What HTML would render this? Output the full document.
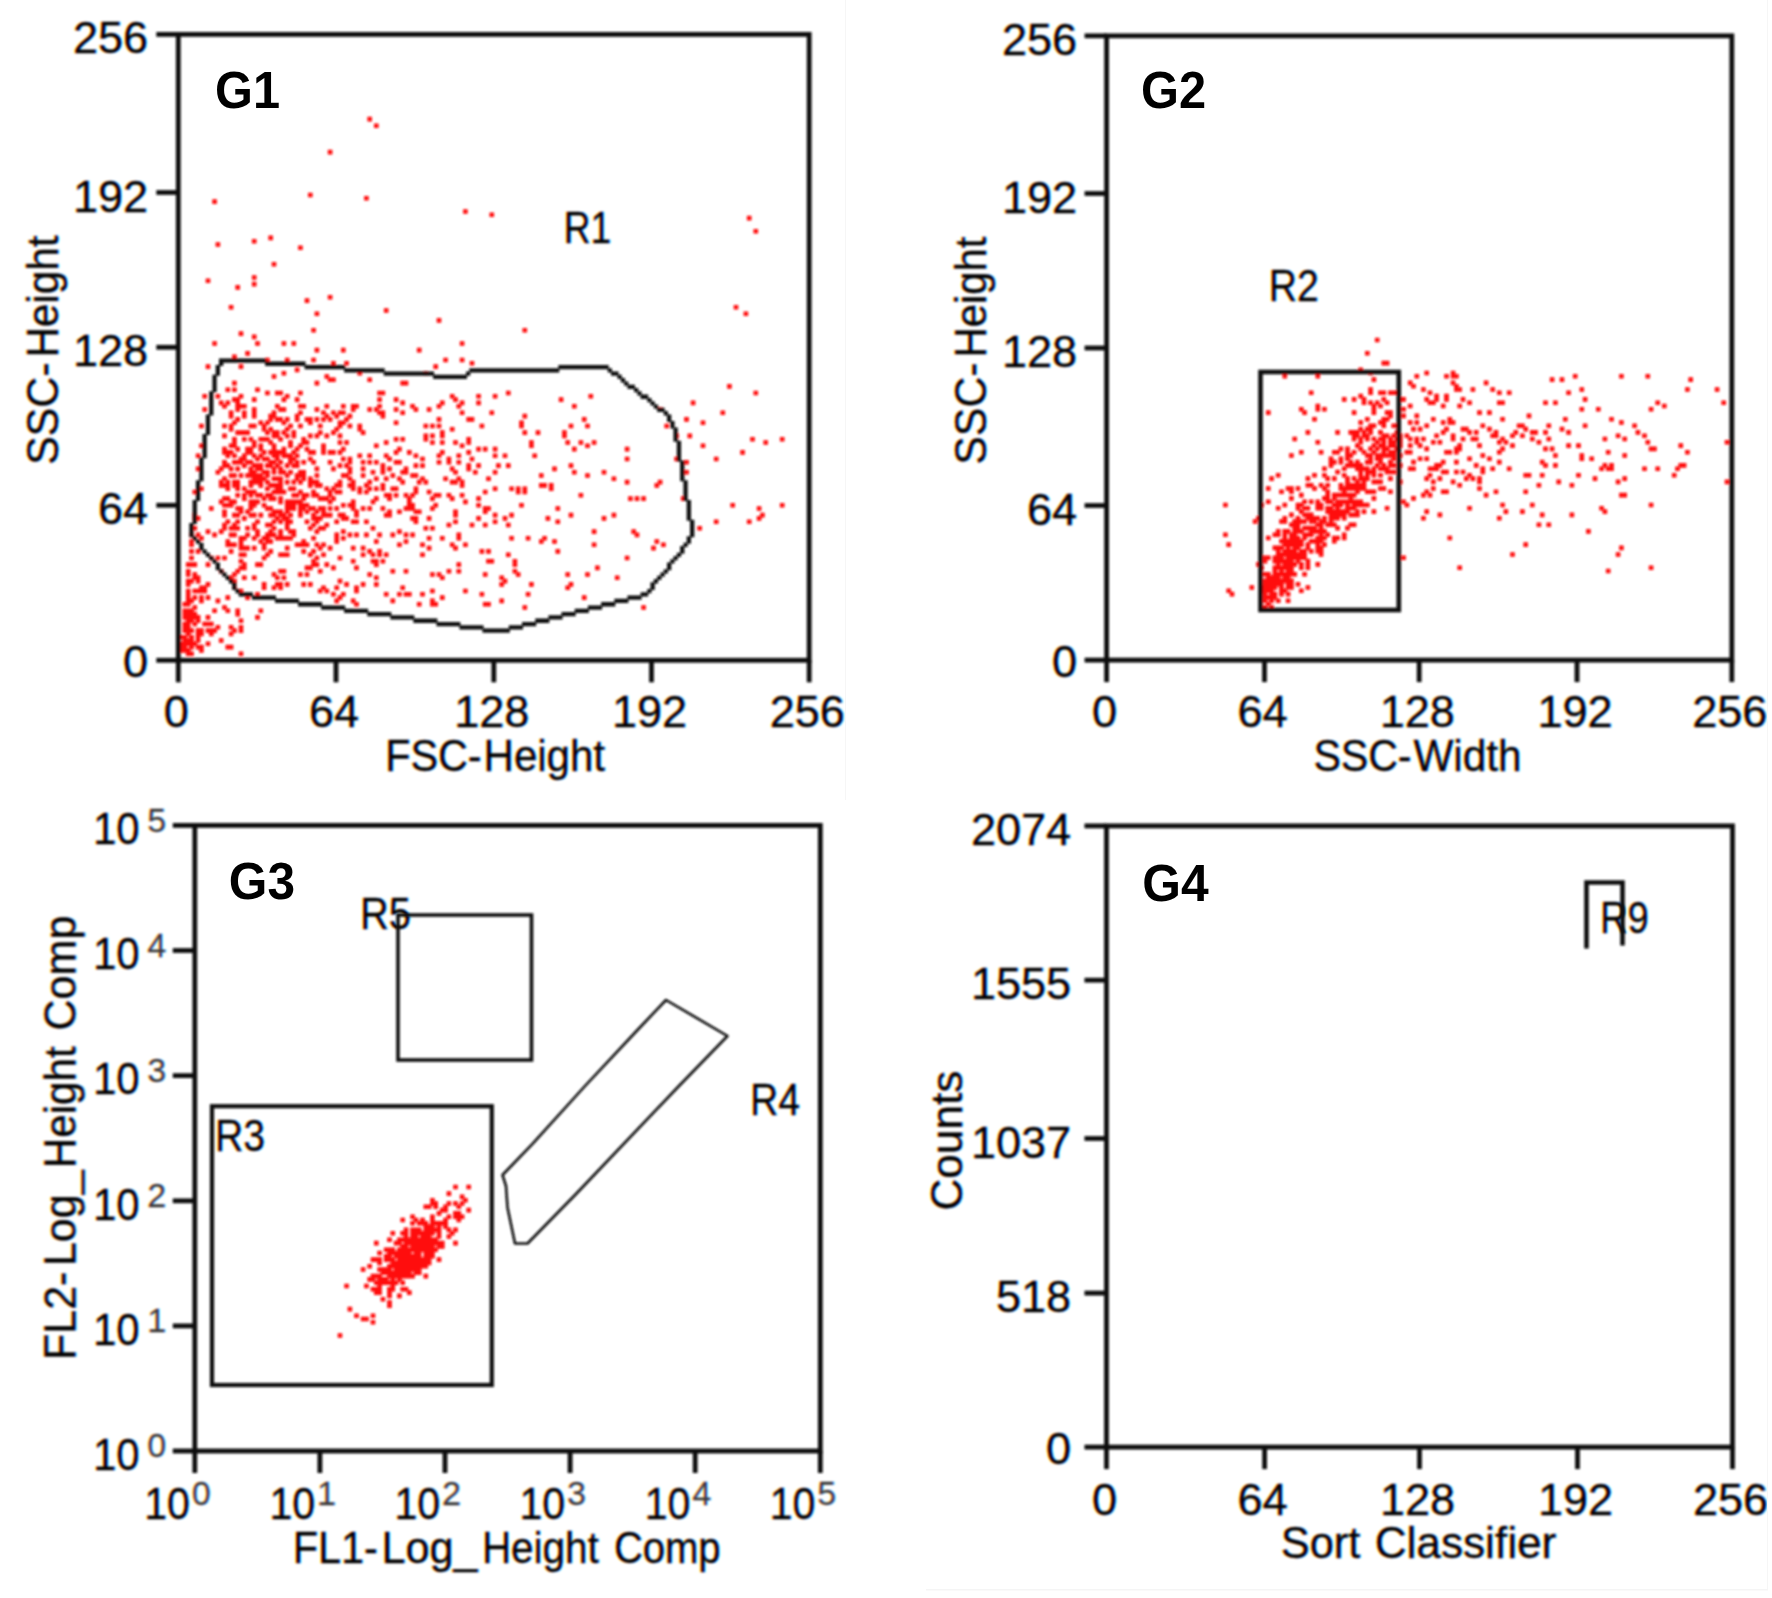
<!DOCTYPE html>
<html><head><meta charset="utf-8"><title>Flow cytometry gating</title>
<style>html,body{margin:0;padding:0;background:#fff;}body{width:1772px;height:1598px;overflow:hidden}svg{display:block}</style>
</head><body>
<svg width="1772" height="1598" viewBox="0 0 1772 1598" font-family='"Liberation Sans", sans-serif' fill="#0c0c0c">
<style>text{stroke:#0c0c0c;stroke-width:0.4px;paint-order:stroke}text.g{stroke:none;fill:#000}text.e,tspan.e{stroke-width:.3px;fill-opacity:.78;stroke-opacity:.78}</style>
<defs><filter id="b" x="-2%" y="-2%" width="104%" height="104%"><feGaussianBlur stdDeviation="0.8"/></filter><filter id="b2" x="-2%" y="-2%" width="104%" height="104%"><feGaussianBlur stdDeviation="0.45"/></filter><filter id="ct" filterUnits="userSpaceOnUse" x="0" y="0" width="1772" height="1598" color-interpolation-filters="sRGB"><feGaussianBlur in="SourceAlpha" stdDeviation="0.95" result="a"/><feOffset in="a" dx="1.3" result="ar"/><feOffset in="a" dx="-1.3" result="ab"/><feColorMatrix in="ar" type="matrix" values="0 0 0 -1 1  0 0 0 0 0  0 0 0 0 0  0 0 0 0 1" result="R"/><feColorMatrix in="a" type="matrix" values="0 0 0 0 0  0 0 0 -1 1  0 0 0 0 0  0 0 0 0 1" result="G"/><feColorMatrix in="ab" type="matrix" values="0 0 0 0 0  0 0 0 0 0  0 0 0 -1 1  0 0 0 0 1" result="B"/><feComposite in="R" in2="G" operator="arithmetic" k2="1" k3="1" result="RG"/><feComposite in="RG" in2="B" operator="arithmetic" k2="1" k3="1"/></filter></defs>
<rect width="1772" height="1598" fill="#fff"/>
<g filter="url(#ct)">
<text x="148.0" y="53.4" font-size="45" text-anchor="end">256</text>
<text x="148.0" y="211.5" font-size="45" text-anchor="end">192</text>
<text x="148.0" y="366.3" font-size="45" text-anchor="end">128</text>
<text x="148.0" y="524.3" font-size="45" text-anchor="end">64</text>
<text x="148.0" y="676.8" font-size="45" text-anchor="end">0</text>
<text x="176.3" y="727.0" font-size="45" text-anchor="middle">0</text>
<text x="334.0" y="727.0" font-size="45" text-anchor="middle">64</text>
<text x="491.8" y="727.0" font-size="45" text-anchor="middle">128</text>
<text x="649.5" y="727.0" font-size="45" text-anchor="middle">192</text>
<text x="807.2" y="727.0" font-size="45" text-anchor="middle">256</text>
<text y="771.0" font-size="44"><tspan x="385.2" textLength="96.3" lengthAdjust="spacingAndGlyphs">FSC-</tspan><tspan x="483.6" textLength="121.3" lengthAdjust="spacingAndGlyphs">Height</tspan></text>
<text y="0" font-size="44" transform="translate(58.0 464.9) rotate(-90)"><tspan x="0.0" textLength="102.5" lengthAdjust="spacingAndGlyphs">SSC-</tspan><tspan x="107.4" textLength="122.0" lengthAdjust="spacingAndGlyphs">Height</tspan></text>
<text x="563.8" y="243.3" font-size="44" textLength="47.3" lengthAdjust="spacingAndGlyphs">R1</text>
<text x="1077.0" y="54.8" font-size="45" text-anchor="end">256</text>
<text x="1077.0" y="212.5" font-size="45" text-anchor="end">192</text>
<text x="1077.0" y="367.0" font-size="45" text-anchor="end">128</text>
<text x="1077.0" y="524.5" font-size="45" text-anchor="end">64</text>
<text x="1077.0" y="677.1" font-size="45" text-anchor="end">0</text>
<text x="1104.6" y="727.0" font-size="45" text-anchor="middle">0</text>
<text x="1262.5" y="727.0" font-size="45" text-anchor="middle">64</text>
<text x="1417.2" y="727.0" font-size="45" text-anchor="middle">128</text>
<text x="1575.0" y="727.0" font-size="45" text-anchor="middle">192</text>
<text x="1729.8" y="727.0" font-size="45" text-anchor="middle">256</text>
<text y="771.0" font-size="44"><tspan x="1313.4" textLength="98.1" lengthAdjust="spacingAndGlyphs">SSC-</tspan><tspan x="1413.5" textLength="108.0" lengthAdjust="spacingAndGlyphs">Width</tspan></text>
<text y="0" font-size="44" transform="translate(986.3 464.7) rotate(-90)"><tspan x="0.0" textLength="102.3" lengthAdjust="spacingAndGlyphs">SSC-</tspan><tspan x="107.2" textLength="120.9" lengthAdjust="spacingAndGlyphs">Height</tspan></text>
<text x="1268.8" y="301.2" font-size="44" textLength="50.0" lengthAdjust="spacingAndGlyphs">R2</text>
<text font-size="45"><tspan x="93" y="844.2" textLength="46.5" lengthAdjust="spacingAndGlyphs">10</tspan><tspan x="147.3" y="831.7" font-size="34" class="e">5</tspan></text>
<text font-size="45"><tspan x="93" y="969.3" textLength="46.5" lengthAdjust="spacingAndGlyphs">10</tspan><tspan x="147.3" y="956.8" font-size="34" class="e">4</tspan></text>
<text font-size="45"><tspan x="93" y="1094.4" textLength="46.5" lengthAdjust="spacingAndGlyphs">10</tspan><tspan x="147.3" y="1081.9" font-size="34" class="e">3</tspan></text>
<text font-size="45"><tspan x="93" y="1219.6" textLength="46.5" lengthAdjust="spacingAndGlyphs">10</tspan><tspan x="147.3" y="1207.1" font-size="34" class="e">2</tspan></text>
<text font-size="45"><tspan x="93" y="1344.7" textLength="46.5" lengthAdjust="spacingAndGlyphs">10</tspan><tspan x="147.3" y="1332.2" font-size="34" class="e">1</tspan></text>
<text font-size="45"><tspan x="93" y="1469.8" textLength="46.5" lengthAdjust="spacingAndGlyphs">10</tspan><tspan x="147.3" y="1457.3" font-size="34" class="e">0</tspan></text>
<text font-size="45"><tspan x="144.3" y="1518.8" textLength="45.5" lengthAdjust="spacingAndGlyphs">10</tspan><tspan x="191.8" y="1505.3" font-size="34" class="e">0</tspan></text>
<text font-size="45"><tspan x="269.4" y="1518.8" textLength="45.5" lengthAdjust="spacingAndGlyphs">10</tspan><tspan x="316.9" y="1505.3" font-size="34" class="e">1</tspan></text>
<text font-size="45"><tspan x="394.5" y="1518.8" textLength="45.5" lengthAdjust="spacingAndGlyphs">10</tspan><tspan x="442.0" y="1505.3" font-size="34" class="e">2</tspan></text>
<text font-size="45"><tspan x="519.6" y="1518.8" textLength="45.5" lengthAdjust="spacingAndGlyphs">10</tspan><tspan x="567.1" y="1505.3" font-size="34" class="e">3</tspan></text>
<text font-size="45"><tspan x="644.7" y="1518.8" textLength="45.5" lengthAdjust="spacingAndGlyphs">10</tspan><tspan x="692.2" y="1505.3" font-size="34" class="e">4</tspan></text>
<text font-size="45"><tspan x="769.8" y="1518.8" textLength="45.5" lengthAdjust="spacingAndGlyphs">10</tspan><tspan x="817.3" y="1505.3" font-size="34" class="e">5</tspan></text>
<text y="1563.0" font-size="44"><tspan x="292.7" textLength="85.1" lengthAdjust="spacingAndGlyphs">FL1-</tspan><tspan x="381.6" textLength="95.9" lengthAdjust="spacingAndGlyphs">Log_</tspan><tspan x="481.9" textLength="128.0" lengthAdjust="spacingAndGlyphs">Height </tspan><tspan x="613.9" textLength="106.7" lengthAdjust="spacingAndGlyphs">Comp</tspan></text>
<text y="0" font-size="44" transform="translate(75.4 1360.0) rotate(-90)"><tspan x="0.0" textLength="88.4" lengthAdjust="spacingAndGlyphs">FL2-</tspan><tspan x="93.9" textLength="95.7" lengthAdjust="spacingAndGlyphs">Log_</tspan><tspan x="191.7" textLength="133.7" lengthAdjust="spacingAndGlyphs">Height </tspan><tspan x="329.4" textLength="115.0" lengthAdjust="spacingAndGlyphs">Comp</tspan></text>
<text x="360.0" y="928.7" font-size="44" textLength="51.0" lengthAdjust="spacingAndGlyphs">R5</text>
<text x="215.0" y="1151.0" font-size="44" textLength="50.0" lengthAdjust="spacingAndGlyphs">R3</text>
<text x="750.0" y="1115.0" font-size="44" textLength="50.0" lengthAdjust="spacingAndGlyphs">R4</text>
<text x="1071.0" y="844.9" font-size="45" text-anchor="end">2074</text>
<text x="1071.0" y="999.2" font-size="45" text-anchor="end">1555</text>
<text x="1071.0" y="1157.5" font-size="45" text-anchor="end">1037</text>
<text x="1071.0" y="1312.1" font-size="45" text-anchor="end">518</text>
<text x="1071.0" y="1463.6" font-size="45" text-anchor="end">0</text>
<text x="1104.5" y="1514.5" font-size="45" text-anchor="middle">0</text>
<text x="1262.6" y="1514.5" font-size="45" text-anchor="middle">64</text>
<text x="1417.5" y="1514.5" font-size="45" text-anchor="middle">128</text>
<text x="1575.5" y="1514.5" font-size="45" text-anchor="middle">192</text>
<text x="1730.5" y="1514.5" font-size="45" text-anchor="middle">256</text>
<text y="1558.3" font-size="44"><tspan x="1280.8" textLength="91.4" lengthAdjust="spacingAndGlyphs">Sort </tspan><tspan x="1374.7" textLength="181.5" lengthAdjust="spacingAndGlyphs">Classifier</tspan></text>
<text y="0" font-size="44" transform="translate(962.4 1210.5) rotate(-90)"><tspan x="0.0" textLength="139.7" lengthAdjust="spacingAndGlyphs">Counts</tspan></text>
<text x="1600.0" y="933.0" font-size="44" textLength="48.8" lengthAdjust="spacingAndGlyphs">R9</text>
</g>
<g filter="url(#b)">
<path fill="#ff0808" d="M179.3 634.9h4.6v4.6h-4.6zM179.3 641.5h4.6v4.6h-4.6zM179.3 644.8h4.6v4.6h-4.6zM179.3 648.1h4.6v4.6h-4.6zM182.6 601.9h4.6v4.6h-4.6zM182.6 608.5h4.6v4.6h-4.6zM182.6 611.8h4.6v4.6h-4.6zM182.6 615.1h4.6v4.6h-4.6zM182.6 621.7h4.6v4.6h-4.6zM182.6 625.0h4.6v4.6h-4.6zM182.6 628.3h4.6v4.6h-4.6zM182.6 634.9h4.6v4.6h-4.6zM182.6 638.2h4.6v4.6h-4.6zM182.6 641.5h4.6v4.6h-4.6zM182.6 644.8h4.6v4.6h-4.6zM182.6 648.1h4.6v4.6h-4.6zM185.9 562.3h4.6v4.6h-4.6zM185.9 568.9h4.6v4.6h-4.6zM185.9 572.2h4.6v4.6h-4.6zM185.9 578.8h4.6v4.6h-4.6zM185.9 582.1h4.6v4.6h-4.6zM185.9 588.7h4.6v4.6h-4.6zM185.9 592.0h4.6v4.6h-4.6zM185.9 595.3h4.6v4.6h-4.6zM185.9 598.6h4.6v4.6h-4.6zM185.9 601.9h4.6v4.6h-4.6zM185.9 608.5h4.6v4.6h-4.6zM185.9 611.8h4.6v4.6h-4.6zM185.9 615.1h4.6v4.6h-4.6zM185.9 618.4h4.6v4.6h-4.6zM185.9 621.7h4.6v4.6h-4.6zM185.9 625.0h4.6v4.6h-4.6zM185.9 628.3h4.6v4.6h-4.6zM185.9 631.6h4.6v4.6h-4.6zM185.9 638.2h4.6v4.6h-4.6zM185.9 641.5h4.6v4.6h-4.6zM185.9 648.1h4.6v4.6h-4.6zM185.9 651.4h4.6v4.6h-4.6zM189.2 532.6h4.6v4.6h-4.6zM189.2 539.2h4.6v4.6h-4.6zM189.2 542.5h4.6v4.6h-4.6zM189.2 549.1h4.6v4.6h-4.6zM189.2 555.7h4.6v4.6h-4.6zM189.2 562.3h4.6v4.6h-4.6zM189.2 578.8h4.6v4.6h-4.6zM189.2 598.6h4.6v4.6h-4.6zM189.2 608.5h4.6v4.6h-4.6zM189.2 611.8h4.6v4.6h-4.6zM189.2 615.1h4.6v4.6h-4.6zM189.2 618.4h4.6v4.6h-4.6zM189.2 628.3h4.6v4.6h-4.6zM189.2 634.9h4.6v4.6h-4.6zM189.2 638.2h4.6v4.6h-4.6zM189.2 641.5h4.6v4.6h-4.6zM189.2 644.8h4.6v4.6h-4.6zM189.2 651.4h4.6v4.6h-4.6zM192.5 489.7h4.6v4.6h-4.6zM192.5 512.8h4.6v4.6h-4.6zM192.5 516.1h4.6v4.6h-4.6zM192.5 526.0h4.6v4.6h-4.6zM192.5 562.3h4.6v4.6h-4.6zM192.5 572.2h4.6v4.6h-4.6zM192.5 575.5h4.6v4.6h-4.6zM192.5 588.7h4.6v4.6h-4.6zM192.5 595.3h4.6v4.6h-4.6zM192.5 605.2h4.6v4.6h-4.6zM192.5 611.8h4.6v4.6h-4.6zM192.5 615.1h4.6v4.6h-4.6zM192.5 621.7h4.6v4.6h-4.6zM192.5 641.5h4.6v4.6h-4.6zM195.8 453.4h4.6v4.6h-4.6zM195.8 466.6h4.6v4.6h-4.6zM195.8 516.1h4.6v4.6h-4.6zM195.8 532.6h4.6v4.6h-4.6zM195.8 549.1h4.6v4.6h-4.6zM195.8 575.5h4.6v4.6h-4.6zM195.8 578.8h4.6v4.6h-4.6zM195.8 588.7h4.6v4.6h-4.6zM195.8 615.1h4.6v4.6h-4.6zM195.8 618.4h4.6v4.6h-4.6zM195.8 628.3h4.6v4.6h-4.6zM195.8 631.6h4.6v4.6h-4.6zM195.8 634.9h4.6v4.6h-4.6zM195.8 638.2h4.6v4.6h-4.6zM195.8 644.8h4.6v4.6h-4.6zM199.1 423.7h4.6v4.6h-4.6zM199.1 443.5h4.6v4.6h-4.6zM199.1 486.4h4.6v4.6h-4.6zM199.1 535.9h4.6v4.6h-4.6zM199.1 585.4h4.6v4.6h-4.6zM199.1 588.7h4.6v4.6h-4.6zM199.1 595.3h4.6v4.6h-4.6zM199.1 598.6h4.6v4.6h-4.6zM199.1 628.3h4.6v4.6h-4.6zM199.1 631.6h4.6v4.6h-4.6zM199.1 644.8h4.6v4.6h-4.6zM199.1 648.1h4.6v4.6h-4.6zM202.4 394.0h4.6v4.6h-4.6zM202.4 407.2h4.6v4.6h-4.6zM202.4 585.4h4.6v4.6h-4.6zM202.4 588.7h4.6v4.6h-4.6zM202.4 621.7h4.6v4.6h-4.6zM205.7 278.5h4.6v4.6h-4.6zM205.7 364.3h4.6v4.6h-4.6zM205.7 529.3h4.6v4.6h-4.6zM205.7 562.3h4.6v4.6h-4.6zM205.7 582.1h4.6v4.6h-4.6zM205.7 595.3h4.6v4.6h-4.6zM205.7 615.1h4.6v4.6h-4.6zM205.7 621.7h4.6v4.6h-4.6zM205.7 628.3h4.6v4.6h-4.6zM205.7 641.5h4.6v4.6h-4.6zM209.0 506.2h4.6v4.6h-4.6zM209.0 555.7h4.6v4.6h-4.6zM209.0 621.7h4.6v4.6h-4.6zM209.0 628.3h4.6v4.6h-4.6zM209.0 631.6h4.6v4.6h-4.6zM212.3 199.3h4.6v4.6h-4.6zM212.3 341.2h4.6v4.6h-4.6zM212.3 532.6h4.6v4.6h-4.6zM212.3 608.5h4.6v4.6h-4.6zM212.3 628.3h4.6v4.6h-4.6zM215.6 242.2h4.6v4.6h-4.6zM215.6 394.0h4.6v4.6h-4.6zM215.6 469.9h4.6v4.6h-4.6zM215.6 555.7h4.6v4.6h-4.6zM215.6 598.6h4.6v4.6h-4.6zM215.6 625.0h4.6v4.6h-4.6zM218.9 400.6h4.6v4.6h-4.6zM218.9 466.6h4.6v4.6h-4.6zM218.9 479.8h4.6v4.6h-4.6zM218.9 483.1h4.6v4.6h-4.6zM218.9 499.6h4.6v4.6h-4.6zM218.9 529.3h4.6v4.6h-4.6zM218.9 568.9h4.6v4.6h-4.6zM218.9 638.2h4.6v4.6h-4.6zM222.2 403.9h4.6v4.6h-4.6zM222.2 423.7h4.6v4.6h-4.6zM222.2 433.6h4.6v4.6h-4.6zM222.2 446.8h4.6v4.6h-4.6zM222.2 450.1h4.6v4.6h-4.6zM222.2 460.0h4.6v4.6h-4.6zM222.2 463.3h4.6v4.6h-4.6zM222.2 476.5h4.6v4.6h-4.6zM222.2 483.1h4.6v4.6h-4.6zM222.2 496.3h4.6v4.6h-4.6zM222.2 502.9h4.6v4.6h-4.6zM222.2 509.5h4.6v4.6h-4.6zM222.2 512.8h4.6v4.6h-4.6zM222.2 522.7h4.6v4.6h-4.6zM222.2 526.0h4.6v4.6h-4.6zM222.2 555.7h4.6v4.6h-4.6zM222.2 605.2h4.6v4.6h-4.6zM225.5 387.4h4.6v4.6h-4.6zM225.5 400.6h4.6v4.6h-4.6zM225.5 450.1h4.6v4.6h-4.6zM225.5 453.4h4.6v4.6h-4.6zM225.5 463.3h4.6v4.6h-4.6zM225.5 479.8h4.6v4.6h-4.6zM225.5 483.1h4.6v4.6h-4.6zM225.5 486.4h4.6v4.6h-4.6zM225.5 496.3h4.6v4.6h-4.6zM225.5 502.9h4.6v4.6h-4.6zM225.5 519.4h4.6v4.6h-4.6zM225.5 539.2h4.6v4.6h-4.6zM225.5 542.5h4.6v4.6h-4.6zM225.5 595.3h4.6v4.6h-4.6zM225.5 608.5h4.6v4.6h-4.6zM225.5 644.8h4.6v4.6h-4.6zM228.8 304.9h4.6v4.6h-4.6zM228.8 410.5h4.6v4.6h-4.6zM228.8 413.8h4.6v4.6h-4.6zM228.8 423.7h4.6v4.6h-4.6zM228.8 427.0h4.6v4.6h-4.6zM228.8 443.5h4.6v4.6h-4.6zM228.8 450.1h4.6v4.6h-4.6zM228.8 466.6h4.6v4.6h-4.6zM228.8 473.2h4.6v4.6h-4.6zM228.8 499.6h4.6v4.6h-4.6zM228.8 502.9h4.6v4.6h-4.6zM228.8 526.0h4.6v4.6h-4.6zM228.8 532.6h4.6v4.6h-4.6zM228.8 542.5h4.6v4.6h-4.6zM228.8 549.1h4.6v4.6h-4.6zM228.8 575.5h4.6v4.6h-4.6zM228.8 625.0h4.6v4.6h-4.6zM228.8 631.6h4.6v4.6h-4.6zM228.8 644.8h4.6v4.6h-4.6zM232.1 354.4h4.6v4.6h-4.6zM232.1 380.8h4.6v4.6h-4.6zM232.1 387.4h4.6v4.6h-4.6zM232.1 397.3h4.6v4.6h-4.6zM232.1 420.4h4.6v4.6h-4.6zM232.1 436.9h4.6v4.6h-4.6zM232.1 440.2h4.6v4.6h-4.6zM232.1 443.5h4.6v4.6h-4.6zM232.1 453.4h4.6v4.6h-4.6zM232.1 460.0h4.6v4.6h-4.6zM232.1 473.2h4.6v4.6h-4.6zM232.1 479.8h4.6v4.6h-4.6zM232.1 483.1h4.6v4.6h-4.6zM232.1 499.6h4.6v4.6h-4.6zM232.1 512.8h4.6v4.6h-4.6zM232.1 522.7h4.6v4.6h-4.6zM232.1 526.0h4.6v4.6h-4.6zM232.1 532.6h4.6v4.6h-4.6zM232.1 542.5h4.6v4.6h-4.6zM232.1 572.2h4.6v4.6h-4.6zM232.1 578.8h4.6v4.6h-4.6zM232.1 585.4h4.6v4.6h-4.6zM232.1 628.3h4.6v4.6h-4.6zM235.4 285.1h4.6v4.6h-4.6zM235.4 397.3h4.6v4.6h-4.6zM235.4 400.6h4.6v4.6h-4.6zM235.4 403.9h4.6v4.6h-4.6zM235.4 407.2h4.6v4.6h-4.6zM235.4 417.1h4.6v4.6h-4.6zM235.4 430.3h4.6v4.6h-4.6zM235.4 446.8h4.6v4.6h-4.6zM235.4 460.0h4.6v4.6h-4.6zM235.4 466.6h4.6v4.6h-4.6zM235.4 479.8h4.6v4.6h-4.6zM235.4 483.1h4.6v4.6h-4.6zM235.4 486.4h4.6v4.6h-4.6zM235.4 493.0h4.6v4.6h-4.6zM235.4 506.2h4.6v4.6h-4.6zM235.4 512.8h4.6v4.6h-4.6zM235.4 519.4h4.6v4.6h-4.6zM235.4 526.0h4.6v4.6h-4.6zM235.4 568.9h4.6v4.6h-4.6zM235.4 608.5h4.6v4.6h-4.6zM235.4 611.8h4.6v4.6h-4.6zM238.7 331.3h4.6v4.6h-4.6zM238.7 364.3h4.6v4.6h-4.6zM238.7 394.0h4.6v4.6h-4.6zM238.7 403.9h4.6v4.6h-4.6zM238.7 430.3h4.6v4.6h-4.6zM238.7 456.7h4.6v4.6h-4.6zM238.7 460.0h4.6v4.6h-4.6zM238.7 473.2h4.6v4.6h-4.6zM238.7 506.2h4.6v4.6h-4.6zM238.7 509.5h4.6v4.6h-4.6zM238.7 535.9h4.6v4.6h-4.6zM238.7 539.2h4.6v4.6h-4.6zM238.7 542.5h4.6v4.6h-4.6zM238.7 545.8h4.6v4.6h-4.6zM238.7 552.4h4.6v4.6h-4.6zM238.7 559.0h4.6v4.6h-4.6zM238.7 565.6h4.6v4.6h-4.6zM238.7 588.7h4.6v4.6h-4.6zM238.7 618.4h4.6v4.6h-4.6zM238.7 625.0h4.6v4.6h-4.6zM238.7 628.3h4.6v4.6h-4.6zM238.7 651.4h4.6v4.6h-4.6zM242.0 403.9h4.6v4.6h-4.6zM242.0 410.5h4.6v4.6h-4.6zM242.0 413.8h4.6v4.6h-4.6zM242.0 430.3h4.6v4.6h-4.6zM242.0 436.9h4.6v4.6h-4.6zM242.0 453.4h4.6v4.6h-4.6zM242.0 456.7h4.6v4.6h-4.6zM242.0 463.3h4.6v4.6h-4.6zM242.0 486.4h4.6v4.6h-4.6zM242.0 493.0h4.6v4.6h-4.6zM242.0 496.3h4.6v4.6h-4.6zM242.0 516.1h4.6v4.6h-4.6zM242.0 535.9h4.6v4.6h-4.6zM242.0 545.8h4.6v4.6h-4.6zM242.0 552.4h4.6v4.6h-4.6zM242.0 562.3h4.6v4.6h-4.6zM242.0 565.6h4.6v4.6h-4.6zM242.0 575.5h4.6v4.6h-4.6zM245.3 351.1h4.6v4.6h-4.6zM245.3 430.3h4.6v4.6h-4.6zM245.3 446.8h4.6v4.6h-4.6zM245.3 450.1h4.6v4.6h-4.6zM245.3 460.0h4.6v4.6h-4.6zM245.3 473.2h4.6v4.6h-4.6zM245.3 489.7h4.6v4.6h-4.6zM245.3 509.5h4.6v4.6h-4.6zM245.3 526.0h4.6v4.6h-4.6zM245.3 532.6h4.6v4.6h-4.6zM245.3 545.8h4.6v4.6h-4.6zM245.3 595.3h4.6v4.6h-4.6zM248.6 423.7h4.6v4.6h-4.6zM248.6 436.9h4.6v4.6h-4.6zM248.6 446.8h4.6v4.6h-4.6zM248.6 450.1h4.6v4.6h-4.6zM248.6 460.0h4.6v4.6h-4.6zM248.6 466.6h4.6v4.6h-4.6zM248.6 469.9h4.6v4.6h-4.6zM248.6 473.2h4.6v4.6h-4.6zM248.6 479.8h4.6v4.6h-4.6zM248.6 483.1h4.6v4.6h-4.6zM248.6 489.7h4.6v4.6h-4.6zM248.6 493.0h4.6v4.6h-4.6zM248.6 499.6h4.6v4.6h-4.6zM248.6 502.9h4.6v4.6h-4.6zM248.6 506.2h4.6v4.6h-4.6zM248.6 512.8h4.6v4.6h-4.6zM251.9 238.9h4.6v4.6h-4.6zM251.9 275.2h4.6v4.6h-4.6zM251.9 281.8h4.6v4.6h-4.6zM251.9 334.6h4.6v4.6h-4.6zM251.9 397.3h4.6v4.6h-4.6zM251.9 407.2h4.6v4.6h-4.6zM251.9 410.5h4.6v4.6h-4.6zM251.9 413.8h4.6v4.6h-4.6zM251.9 423.7h4.6v4.6h-4.6zM251.9 440.2h4.6v4.6h-4.6zM251.9 443.5h4.6v4.6h-4.6zM251.9 453.4h4.6v4.6h-4.6zM251.9 463.3h4.6v4.6h-4.6zM251.9 469.9h4.6v4.6h-4.6zM251.9 473.2h4.6v4.6h-4.6zM251.9 476.5h4.6v4.6h-4.6zM251.9 479.8h4.6v4.6h-4.6zM251.9 489.7h4.6v4.6h-4.6zM251.9 499.6h4.6v4.6h-4.6zM251.9 502.9h4.6v4.6h-4.6zM251.9 512.8h4.6v4.6h-4.6zM251.9 522.7h4.6v4.6h-4.6zM251.9 526.0h4.6v4.6h-4.6zM251.9 535.9h4.6v4.6h-4.6zM251.9 545.8h4.6v4.6h-4.6zM251.9 575.5h4.6v4.6h-4.6zM255.2 341.2h4.6v4.6h-4.6zM255.2 387.4h4.6v4.6h-4.6zM255.2 456.7h4.6v4.6h-4.6zM255.2 463.3h4.6v4.6h-4.6zM255.2 466.6h4.6v4.6h-4.6zM255.2 473.2h4.6v4.6h-4.6zM255.2 476.5h4.6v4.6h-4.6zM255.2 479.8h4.6v4.6h-4.6zM255.2 493.0h4.6v4.6h-4.6zM255.2 499.6h4.6v4.6h-4.6zM255.2 519.4h4.6v4.6h-4.6zM255.2 529.3h4.6v4.6h-4.6zM255.2 532.6h4.6v4.6h-4.6zM255.2 562.3h4.6v4.6h-4.6zM255.2 592.0h4.6v4.6h-4.6zM255.2 615.1h4.6v4.6h-4.6zM258.5 420.4h4.6v4.6h-4.6zM258.5 436.9h4.6v4.6h-4.6zM258.5 443.5h4.6v4.6h-4.6zM258.5 446.8h4.6v4.6h-4.6zM258.5 453.4h4.6v4.6h-4.6zM258.5 463.3h4.6v4.6h-4.6zM258.5 466.6h4.6v4.6h-4.6zM258.5 473.2h4.6v4.6h-4.6zM258.5 476.5h4.6v4.6h-4.6zM258.5 479.8h4.6v4.6h-4.6zM258.5 483.1h4.6v4.6h-4.6zM258.5 493.0h4.6v4.6h-4.6zM258.5 512.8h4.6v4.6h-4.6zM258.5 539.2h4.6v4.6h-4.6zM258.5 562.3h4.6v4.6h-4.6zM258.5 608.5h4.6v4.6h-4.6zM261.8 423.7h4.6v4.6h-4.6zM261.8 427.0h4.6v4.6h-4.6zM261.8 436.9h4.6v4.6h-4.6zM261.8 450.1h4.6v4.6h-4.6zM261.8 456.7h4.6v4.6h-4.6zM261.8 469.9h4.6v4.6h-4.6zM261.8 476.5h4.6v4.6h-4.6zM261.8 496.3h4.6v4.6h-4.6zM261.8 502.9h4.6v4.6h-4.6zM261.8 535.9h4.6v4.6h-4.6zM261.8 542.5h4.6v4.6h-4.6zM261.8 545.8h4.6v4.6h-4.6zM261.8 555.7h4.6v4.6h-4.6zM261.8 582.1h4.6v4.6h-4.6zM261.8 585.4h4.6v4.6h-4.6zM265.1 357.7h4.6v4.6h-4.6zM265.1 390.7h4.6v4.6h-4.6zM265.1 420.4h4.6v4.6h-4.6zM265.1 430.3h4.6v4.6h-4.6zM265.1 436.9h4.6v4.6h-4.6zM265.1 456.7h4.6v4.6h-4.6zM265.1 463.3h4.6v4.6h-4.6zM265.1 469.9h4.6v4.6h-4.6zM265.1 473.2h4.6v4.6h-4.6zM265.1 479.8h4.6v4.6h-4.6zM265.1 486.4h4.6v4.6h-4.6zM265.1 493.0h4.6v4.6h-4.6zM265.1 506.2h4.6v4.6h-4.6zM265.1 522.7h4.6v4.6h-4.6zM265.1 532.6h4.6v4.6h-4.6zM265.1 535.9h4.6v4.6h-4.6zM265.1 539.2h4.6v4.6h-4.6zM265.1 552.4h4.6v4.6h-4.6zM268.4 235.6h4.6v4.6h-4.6zM268.4 413.8h4.6v4.6h-4.6zM268.4 417.1h4.6v4.6h-4.6zM268.4 427.0h4.6v4.6h-4.6zM268.4 440.2h4.6v4.6h-4.6zM268.4 450.1h4.6v4.6h-4.6zM268.4 460.0h4.6v4.6h-4.6zM268.4 463.3h4.6v4.6h-4.6zM268.4 483.1h4.6v4.6h-4.6zM268.4 493.0h4.6v4.6h-4.6zM268.4 496.3h4.6v4.6h-4.6zM268.4 506.2h4.6v4.6h-4.6zM268.4 512.8h4.6v4.6h-4.6zM268.4 522.7h4.6v4.6h-4.6zM268.4 529.3h4.6v4.6h-4.6zM268.4 532.6h4.6v4.6h-4.6zM268.4 539.2h4.6v4.6h-4.6zM268.4 549.1h4.6v4.6h-4.6zM271.7 262.0h4.6v4.6h-4.6zM271.7 374.2h4.6v4.6h-4.6zM271.7 410.5h4.6v4.6h-4.6zM271.7 413.8h4.6v4.6h-4.6zM271.7 430.3h4.6v4.6h-4.6zM271.7 433.6h4.6v4.6h-4.6zM271.7 443.5h4.6v4.6h-4.6zM271.7 446.8h4.6v4.6h-4.6zM271.7 450.1h4.6v4.6h-4.6zM271.7 453.4h4.6v4.6h-4.6zM271.7 460.0h4.6v4.6h-4.6zM271.7 466.6h4.6v4.6h-4.6zM271.7 469.9h4.6v4.6h-4.6zM271.7 476.5h4.6v4.6h-4.6zM271.7 483.1h4.6v4.6h-4.6zM271.7 489.7h4.6v4.6h-4.6zM271.7 496.3h4.6v4.6h-4.6zM271.7 509.5h4.6v4.6h-4.6zM271.7 512.8h4.6v4.6h-4.6zM271.7 519.4h4.6v4.6h-4.6zM271.7 526.0h4.6v4.6h-4.6zM271.7 532.6h4.6v4.6h-4.6zM271.7 572.2h4.6v4.6h-4.6zM271.7 585.4h4.6v4.6h-4.6zM275.0 390.7h4.6v4.6h-4.6zM275.0 403.9h4.6v4.6h-4.6zM275.0 417.1h4.6v4.6h-4.6zM275.0 430.3h4.6v4.6h-4.6zM275.0 433.6h4.6v4.6h-4.6zM275.0 450.1h4.6v4.6h-4.6zM275.0 453.4h4.6v4.6h-4.6zM275.0 456.7h4.6v4.6h-4.6zM275.0 463.3h4.6v4.6h-4.6zM275.0 476.5h4.6v4.6h-4.6zM275.0 483.1h4.6v4.6h-4.6zM275.0 486.4h4.6v4.6h-4.6zM275.0 489.7h4.6v4.6h-4.6zM275.0 509.5h4.6v4.6h-4.6zM275.0 516.1h4.6v4.6h-4.6zM275.0 535.9h4.6v4.6h-4.6zM275.0 575.5h4.6v4.6h-4.6zM275.0 582.1h4.6v4.6h-4.6zM278.3 390.7h4.6v4.6h-4.6zM278.3 407.2h4.6v4.6h-4.6zM278.3 417.1h4.6v4.6h-4.6zM278.3 436.9h4.6v4.6h-4.6zM278.3 450.1h4.6v4.6h-4.6zM278.3 460.0h4.6v4.6h-4.6zM278.3 466.6h4.6v4.6h-4.6zM278.3 469.9h4.6v4.6h-4.6zM278.3 476.5h4.6v4.6h-4.6zM278.3 479.8h4.6v4.6h-4.6zM278.3 483.1h4.6v4.6h-4.6zM278.3 486.4h4.6v4.6h-4.6zM278.3 489.7h4.6v4.6h-4.6zM278.3 496.3h4.6v4.6h-4.6zM278.3 499.6h4.6v4.6h-4.6zM278.3 509.5h4.6v4.6h-4.6zM278.3 512.8h4.6v4.6h-4.6zM278.3 519.4h4.6v4.6h-4.6zM278.3 529.3h4.6v4.6h-4.6zM278.3 532.6h4.6v4.6h-4.6zM278.3 535.9h4.6v4.6h-4.6zM278.3 552.4h4.6v4.6h-4.6zM278.3 568.9h4.6v4.6h-4.6zM278.3 582.1h4.6v4.6h-4.6zM278.3 585.4h4.6v4.6h-4.6zM281.6 341.2h4.6v4.6h-4.6zM281.6 370.9h4.6v4.6h-4.6zM281.6 397.3h4.6v4.6h-4.6zM281.6 407.2h4.6v4.6h-4.6zM281.6 420.4h4.6v4.6h-4.6zM281.6 430.3h4.6v4.6h-4.6zM281.6 446.8h4.6v4.6h-4.6zM281.6 450.1h4.6v4.6h-4.6zM281.6 453.4h4.6v4.6h-4.6zM281.6 469.9h4.6v4.6h-4.6zM281.6 489.7h4.6v4.6h-4.6zM281.6 512.8h4.6v4.6h-4.6zM281.6 516.1h4.6v4.6h-4.6zM281.6 535.9h4.6v4.6h-4.6zM281.6 552.4h4.6v4.6h-4.6zM281.6 568.9h4.6v4.6h-4.6zM281.6 575.5h4.6v4.6h-4.6zM284.9 357.7h4.6v4.6h-4.6zM284.9 394.0h4.6v4.6h-4.6zM284.9 417.1h4.6v4.6h-4.6zM284.9 427.0h4.6v4.6h-4.6zM284.9 433.6h4.6v4.6h-4.6zM284.9 453.4h4.6v4.6h-4.6zM284.9 463.3h4.6v4.6h-4.6zM284.9 473.2h4.6v4.6h-4.6zM284.9 479.8h4.6v4.6h-4.6zM284.9 499.6h4.6v4.6h-4.6zM284.9 502.9h4.6v4.6h-4.6zM284.9 506.2h4.6v4.6h-4.6zM284.9 509.5h4.6v4.6h-4.6zM284.9 516.1h4.6v4.6h-4.6zM284.9 519.4h4.6v4.6h-4.6zM284.9 522.7h4.6v4.6h-4.6zM284.9 526.0h4.6v4.6h-4.6zM284.9 535.9h4.6v4.6h-4.6zM284.9 545.8h4.6v4.6h-4.6zM284.9 552.4h4.6v4.6h-4.6zM284.9 582.1h4.6v4.6h-4.6zM288.2 423.7h4.6v4.6h-4.6zM288.2 440.2h4.6v4.6h-4.6zM288.2 443.5h4.6v4.6h-4.6zM288.2 453.4h4.6v4.6h-4.6zM288.2 456.7h4.6v4.6h-4.6zM288.2 460.0h4.6v4.6h-4.6zM288.2 469.9h4.6v4.6h-4.6zM288.2 486.4h4.6v4.6h-4.6zM288.2 499.6h4.6v4.6h-4.6zM288.2 502.9h4.6v4.6h-4.6zM288.2 506.2h4.6v4.6h-4.6zM288.2 512.8h4.6v4.6h-4.6zM288.2 519.4h4.6v4.6h-4.6zM288.2 529.3h4.6v4.6h-4.6zM288.2 535.9h4.6v4.6h-4.6zM291.5 341.2h4.6v4.6h-4.6zM291.5 430.3h4.6v4.6h-4.6zM291.5 433.6h4.6v4.6h-4.6zM291.5 450.1h4.6v4.6h-4.6zM291.5 456.7h4.6v4.6h-4.6zM291.5 463.3h4.6v4.6h-4.6zM291.5 479.8h4.6v4.6h-4.6zM291.5 486.4h4.6v4.6h-4.6zM291.5 493.0h4.6v4.6h-4.6zM291.5 499.6h4.6v4.6h-4.6zM291.5 502.9h4.6v4.6h-4.6zM291.5 506.2h4.6v4.6h-4.6zM291.5 529.3h4.6v4.6h-4.6zM291.5 532.6h4.6v4.6h-4.6zM294.8 367.6h4.6v4.6h-4.6zM294.8 397.3h4.6v4.6h-4.6zM294.8 413.8h4.6v4.6h-4.6zM294.8 417.1h4.6v4.6h-4.6zM294.8 446.8h4.6v4.6h-4.6zM294.8 453.4h4.6v4.6h-4.6zM294.8 460.0h4.6v4.6h-4.6zM294.8 463.3h4.6v4.6h-4.6zM294.8 473.2h4.6v4.6h-4.6zM294.8 476.5h4.6v4.6h-4.6zM294.8 493.0h4.6v4.6h-4.6zM294.8 499.6h4.6v4.6h-4.6zM294.8 542.5h4.6v4.6h-4.6zM298.1 245.5h4.6v4.6h-4.6zM298.1 390.7h4.6v4.6h-4.6zM298.1 403.9h4.6v4.6h-4.6zM298.1 410.5h4.6v4.6h-4.6zM298.1 423.7h4.6v4.6h-4.6zM298.1 443.5h4.6v4.6h-4.6zM298.1 469.9h4.6v4.6h-4.6zM298.1 473.2h4.6v4.6h-4.6zM298.1 479.8h4.6v4.6h-4.6zM298.1 489.7h4.6v4.6h-4.6zM298.1 499.6h4.6v4.6h-4.6zM298.1 502.9h4.6v4.6h-4.6zM298.1 506.2h4.6v4.6h-4.6zM298.1 509.5h4.6v4.6h-4.6zM298.1 512.8h4.6v4.6h-4.6zM298.1 542.5h4.6v4.6h-4.6zM298.1 572.2h4.6v4.6h-4.6zM301.4 403.9h4.6v4.6h-4.6zM301.4 436.9h4.6v4.6h-4.6zM301.4 440.2h4.6v4.6h-4.6zM301.4 460.0h4.6v4.6h-4.6zM301.4 469.9h4.6v4.6h-4.6zM301.4 473.2h4.6v4.6h-4.6zM301.4 476.5h4.6v4.6h-4.6zM301.4 493.0h4.6v4.6h-4.6zM301.4 496.3h4.6v4.6h-4.6zM301.4 502.9h4.6v4.6h-4.6zM301.4 506.2h4.6v4.6h-4.6zM301.4 539.2h4.6v4.6h-4.6zM301.4 542.5h4.6v4.6h-4.6zM301.4 549.1h4.6v4.6h-4.6zM301.4 582.1h4.6v4.6h-4.6zM304.7 298.3h4.6v4.6h-4.6zM304.7 417.1h4.6v4.6h-4.6zM304.7 440.2h4.6v4.6h-4.6zM304.7 446.8h4.6v4.6h-4.6zM304.7 493.0h4.6v4.6h-4.6zM304.7 502.9h4.6v4.6h-4.6zM304.7 509.5h4.6v4.6h-4.6zM304.7 519.4h4.6v4.6h-4.6zM304.7 542.5h4.6v4.6h-4.6zM304.7 565.6h4.6v4.6h-4.6zM304.7 572.2h4.6v4.6h-4.6zM308.0 192.7h4.6v4.6h-4.6zM308.0 417.1h4.6v4.6h-4.6zM308.0 420.4h4.6v4.6h-4.6zM308.0 433.6h4.6v4.6h-4.6zM308.0 450.1h4.6v4.6h-4.6zM308.0 456.7h4.6v4.6h-4.6zM308.0 476.5h4.6v4.6h-4.6zM308.0 479.8h4.6v4.6h-4.6zM308.0 483.1h4.6v4.6h-4.6zM308.0 506.2h4.6v4.6h-4.6zM308.0 526.0h4.6v4.6h-4.6zM308.0 552.4h4.6v4.6h-4.6zM308.0 565.6h4.6v4.6h-4.6zM308.0 582.1h4.6v4.6h-4.6zM311.3 328.0h4.6v4.6h-4.6zM311.3 357.7h4.6v4.6h-4.6zM311.3 450.1h4.6v4.6h-4.6zM311.3 460.0h4.6v4.6h-4.6zM311.3 479.8h4.6v4.6h-4.6zM311.3 489.7h4.6v4.6h-4.6zM311.3 493.0h4.6v4.6h-4.6zM311.3 506.2h4.6v4.6h-4.6zM311.3 512.8h4.6v4.6h-4.6zM311.3 516.1h4.6v4.6h-4.6zM311.3 522.7h4.6v4.6h-4.6zM311.3 535.9h4.6v4.6h-4.6zM311.3 549.1h4.6v4.6h-4.6zM311.3 559.0h4.6v4.6h-4.6zM311.3 562.3h4.6v4.6h-4.6zM314.6 311.5h4.6v4.6h-4.6zM314.6 347.8h4.6v4.6h-4.6zM314.6 380.8h4.6v4.6h-4.6zM314.6 407.2h4.6v4.6h-4.6zM314.6 417.1h4.6v4.6h-4.6zM314.6 433.6h4.6v4.6h-4.6zM314.6 466.6h4.6v4.6h-4.6zM314.6 473.2h4.6v4.6h-4.6zM314.6 479.8h4.6v4.6h-4.6zM314.6 483.1h4.6v4.6h-4.6zM314.6 493.0h4.6v4.6h-4.6zM314.6 509.5h4.6v4.6h-4.6zM314.6 516.1h4.6v4.6h-4.6zM314.6 519.4h4.6v4.6h-4.6zM314.6 529.3h4.6v4.6h-4.6zM314.6 542.5h4.6v4.6h-4.6zM314.6 555.7h4.6v4.6h-4.6zM314.6 562.3h4.6v4.6h-4.6zM317.9 423.7h4.6v4.6h-4.6zM317.9 430.3h4.6v4.6h-4.6zM317.9 483.1h4.6v4.6h-4.6zM317.9 496.3h4.6v4.6h-4.6zM317.9 506.2h4.6v4.6h-4.6zM317.9 516.1h4.6v4.6h-4.6zM317.9 526.0h4.6v4.6h-4.6zM317.9 545.8h4.6v4.6h-4.6zM317.9 568.9h4.6v4.6h-4.6zM317.9 588.7h4.6v4.6h-4.6zM321.2 410.5h4.6v4.6h-4.6zM321.2 417.1h4.6v4.6h-4.6zM321.2 443.5h4.6v4.6h-4.6zM321.2 446.8h4.6v4.6h-4.6zM321.2 450.1h4.6v4.6h-4.6zM321.2 496.3h4.6v4.6h-4.6zM321.2 506.2h4.6v4.6h-4.6zM321.2 509.5h4.6v4.6h-4.6zM321.2 512.8h4.6v4.6h-4.6zM321.2 526.0h4.6v4.6h-4.6zM321.2 542.5h4.6v4.6h-4.6zM321.2 552.4h4.6v4.6h-4.6zM321.2 585.4h4.6v4.6h-4.6zM324.5 374.2h4.6v4.6h-4.6zM324.5 403.9h4.6v4.6h-4.6zM324.5 413.8h4.6v4.6h-4.6zM324.5 433.6h4.6v4.6h-4.6zM324.5 486.4h4.6v4.6h-4.6zM324.5 496.3h4.6v4.6h-4.6zM324.5 512.8h4.6v4.6h-4.6zM324.5 522.7h4.6v4.6h-4.6zM324.5 562.3h4.6v4.6h-4.6zM324.5 588.7h4.6v4.6h-4.6zM327.8 149.8h4.6v4.6h-4.6zM327.8 295.0h4.6v4.6h-4.6zM327.8 377.5h4.6v4.6h-4.6zM327.8 417.1h4.6v4.6h-4.6zM327.8 450.1h4.6v4.6h-4.6zM327.8 460.0h4.6v4.6h-4.6zM327.8 489.7h4.6v4.6h-4.6zM327.8 493.0h4.6v4.6h-4.6zM327.8 499.6h4.6v4.6h-4.6zM327.8 506.2h4.6v4.6h-4.6zM327.8 512.8h4.6v4.6h-4.6zM327.8 545.8h4.6v4.6h-4.6zM331.1 361.0h4.6v4.6h-4.6zM331.1 377.5h4.6v4.6h-4.6zM331.1 410.5h4.6v4.6h-4.6zM331.1 430.3h4.6v4.6h-4.6zM331.1 450.1h4.6v4.6h-4.6zM331.1 466.6h4.6v4.6h-4.6zM331.1 486.4h4.6v4.6h-4.6zM331.1 496.3h4.6v4.6h-4.6zM331.1 565.6h4.6v4.6h-4.6zM331.1 592.0h4.6v4.6h-4.6zM334.4 413.8h4.6v4.6h-4.6zM334.4 427.0h4.6v4.6h-4.6zM334.4 483.1h4.6v4.6h-4.6zM334.4 489.7h4.6v4.6h-4.6zM334.4 506.2h4.6v4.6h-4.6zM334.4 519.4h4.6v4.6h-4.6zM334.4 532.6h4.6v4.6h-4.6zM334.4 535.9h4.6v4.6h-4.6zM334.4 539.2h4.6v4.6h-4.6zM334.4 585.4h4.6v4.6h-4.6zM334.4 598.6h4.6v4.6h-4.6zM337.7 410.5h4.6v4.6h-4.6zM337.7 420.4h4.6v4.6h-4.6zM337.7 423.7h4.6v4.6h-4.6zM337.7 433.6h4.6v4.6h-4.6zM337.7 440.2h4.6v4.6h-4.6zM337.7 450.1h4.6v4.6h-4.6zM337.7 463.3h4.6v4.6h-4.6zM337.7 479.8h4.6v4.6h-4.6zM337.7 483.1h4.6v4.6h-4.6zM337.7 489.7h4.6v4.6h-4.6zM337.7 512.8h4.6v4.6h-4.6zM337.7 555.7h4.6v4.6h-4.6zM337.7 578.8h4.6v4.6h-4.6zM337.7 595.3h4.6v4.6h-4.6zM341.0 347.8h4.6v4.6h-4.6zM341.0 403.9h4.6v4.6h-4.6zM341.0 410.5h4.6v4.6h-4.6zM341.0 420.4h4.6v4.6h-4.6zM341.0 446.8h4.6v4.6h-4.6zM341.0 456.7h4.6v4.6h-4.6zM341.0 473.2h4.6v4.6h-4.6zM341.0 502.9h4.6v4.6h-4.6zM341.0 512.8h4.6v4.6h-4.6zM341.0 516.1h4.6v4.6h-4.6zM341.0 529.3h4.6v4.6h-4.6zM341.0 535.9h4.6v4.6h-4.6zM341.0 592.0h4.6v4.6h-4.6zM344.3 361.0h4.6v4.6h-4.6zM344.3 417.1h4.6v4.6h-4.6zM344.3 440.2h4.6v4.6h-4.6zM344.3 463.3h4.6v4.6h-4.6zM344.3 473.2h4.6v4.6h-4.6zM344.3 516.1h4.6v4.6h-4.6zM344.3 582.1h4.6v4.6h-4.6zM347.6 413.8h4.6v4.6h-4.6zM347.6 423.7h4.6v4.6h-4.6zM347.6 456.7h4.6v4.6h-4.6zM347.6 460.0h4.6v4.6h-4.6zM347.6 466.6h4.6v4.6h-4.6zM347.6 469.9h4.6v4.6h-4.6zM347.6 476.5h4.6v4.6h-4.6zM347.6 483.1h4.6v4.6h-4.6zM347.6 502.9h4.6v4.6h-4.6zM347.6 532.6h4.6v4.6h-4.6zM350.9 403.9h4.6v4.6h-4.6zM350.9 407.2h4.6v4.6h-4.6zM350.9 479.8h4.6v4.6h-4.6zM350.9 483.1h4.6v4.6h-4.6zM350.9 486.4h4.6v4.6h-4.6zM350.9 499.6h4.6v4.6h-4.6zM350.9 502.9h4.6v4.6h-4.6zM350.9 506.2h4.6v4.6h-4.6zM350.9 519.4h4.6v4.6h-4.6zM350.9 545.8h4.6v4.6h-4.6zM350.9 559.0h4.6v4.6h-4.6zM350.9 598.6h4.6v4.6h-4.6zM354.2 403.9h4.6v4.6h-4.6zM354.2 509.5h4.6v4.6h-4.6zM354.2 512.8h4.6v4.6h-4.6zM354.2 519.4h4.6v4.6h-4.6zM354.2 532.6h4.6v4.6h-4.6zM354.2 565.6h4.6v4.6h-4.6zM354.2 585.4h4.6v4.6h-4.6zM354.2 588.7h4.6v4.6h-4.6zM354.2 601.9h4.6v4.6h-4.6zM357.5 370.9h4.6v4.6h-4.6zM357.5 423.7h4.6v4.6h-4.6zM357.5 427.0h4.6v4.6h-4.6zM357.5 453.4h4.6v4.6h-4.6zM357.5 486.4h4.6v4.6h-4.6zM357.5 489.7h4.6v4.6h-4.6zM360.8 430.3h4.6v4.6h-4.6zM360.8 460.0h4.6v4.6h-4.6zM360.8 466.6h4.6v4.6h-4.6zM360.8 473.2h4.6v4.6h-4.6zM360.8 506.2h4.6v4.6h-4.6zM360.8 545.8h4.6v4.6h-4.6zM360.8 552.4h4.6v4.6h-4.6zM360.8 582.1h4.6v4.6h-4.6zM364.1 196.0h4.6v4.6h-4.6zM364.1 483.1h4.6v4.6h-4.6zM364.1 489.7h4.6v4.6h-4.6zM364.1 519.4h4.6v4.6h-4.6zM364.1 532.6h4.6v4.6h-4.6zM367.4 116.8h4.6v4.6h-4.6zM367.4 377.5h4.6v4.6h-4.6zM367.4 407.2h4.6v4.6h-4.6zM367.4 453.4h4.6v4.6h-4.6zM367.4 460.0h4.6v4.6h-4.6zM367.4 479.8h4.6v4.6h-4.6zM367.4 486.4h4.6v4.6h-4.6zM367.4 506.2h4.6v4.6h-4.6zM367.4 549.1h4.6v4.6h-4.6zM367.4 572.2h4.6v4.6h-4.6zM370.7 469.9h4.6v4.6h-4.6zM370.7 499.6h4.6v4.6h-4.6zM370.7 526.0h4.6v4.6h-4.6zM370.7 552.4h4.6v4.6h-4.6zM370.7 559.0h4.6v4.6h-4.6zM374.0 123.4h4.6v4.6h-4.6zM374.0 407.2h4.6v4.6h-4.6zM374.0 443.5h4.6v4.6h-4.6zM374.0 460.0h4.6v4.6h-4.6zM374.0 476.5h4.6v4.6h-4.6zM374.0 486.4h4.6v4.6h-4.6zM374.0 496.3h4.6v4.6h-4.6zM374.0 539.2h4.6v4.6h-4.6zM374.0 559.0h4.6v4.6h-4.6zM374.0 562.3h4.6v4.6h-4.6zM374.0 575.5h4.6v4.6h-4.6zM374.0 582.1h4.6v4.6h-4.6zM377.3 390.7h4.6v4.6h-4.6zM377.3 397.3h4.6v4.6h-4.6zM377.3 403.9h4.6v4.6h-4.6zM377.3 410.5h4.6v4.6h-4.6zM377.3 532.6h4.6v4.6h-4.6zM377.3 549.1h4.6v4.6h-4.6zM377.3 552.4h4.6v4.6h-4.6zM380.6 390.7h4.6v4.6h-4.6zM380.6 410.5h4.6v4.6h-4.6zM380.6 413.8h4.6v4.6h-4.6zM380.6 463.3h4.6v4.6h-4.6zM380.6 466.6h4.6v4.6h-4.6zM380.6 469.9h4.6v4.6h-4.6zM380.6 483.1h4.6v4.6h-4.6zM380.6 486.4h4.6v4.6h-4.6zM380.6 506.2h4.6v4.6h-4.6zM380.6 559.0h4.6v4.6h-4.6zM383.9 308.2h4.6v4.6h-4.6zM383.9 440.2h4.6v4.6h-4.6zM383.9 453.4h4.6v4.6h-4.6zM383.9 476.5h4.6v4.6h-4.6zM383.9 493.0h4.6v4.6h-4.6zM383.9 512.8h4.6v4.6h-4.6zM383.9 552.4h4.6v4.6h-4.6zM383.9 592.0h4.6v4.6h-4.6zM387.2 456.7h4.6v4.6h-4.6zM387.2 466.6h4.6v4.6h-4.6zM387.2 493.0h4.6v4.6h-4.6zM387.2 496.3h4.6v4.6h-4.6zM387.2 509.5h4.6v4.6h-4.6zM387.2 512.8h4.6v4.6h-4.6zM390.5 473.2h4.6v4.6h-4.6zM390.5 486.4h4.6v4.6h-4.6zM390.5 532.6h4.6v4.6h-4.6zM390.5 568.9h4.6v4.6h-4.6zM390.5 598.6h4.6v4.6h-4.6zM393.8 397.3h4.6v4.6h-4.6zM393.8 407.2h4.6v4.6h-4.6zM393.8 420.4h4.6v4.6h-4.6zM393.8 436.9h4.6v4.6h-4.6zM393.8 450.1h4.6v4.6h-4.6zM393.8 460.0h4.6v4.6h-4.6zM393.8 486.4h4.6v4.6h-4.6zM393.8 493.0h4.6v4.6h-4.6zM397.1 446.8h4.6v4.6h-4.6zM397.1 460.0h4.6v4.6h-4.6zM397.1 476.5h4.6v4.6h-4.6zM397.1 509.5h4.6v4.6h-4.6zM397.1 529.3h4.6v4.6h-4.6zM397.1 542.5h4.6v4.6h-4.6zM397.1 592.0h4.6v4.6h-4.6zM400.4 380.8h4.6v4.6h-4.6zM400.4 400.6h4.6v4.6h-4.6zM400.4 410.5h4.6v4.6h-4.6zM400.4 436.9h4.6v4.6h-4.6zM400.4 469.9h4.6v4.6h-4.6zM400.4 479.8h4.6v4.6h-4.6zM400.4 585.4h4.6v4.6h-4.6zM403.7 380.8h4.6v4.6h-4.6zM403.7 466.6h4.6v4.6h-4.6zM403.7 469.9h4.6v4.6h-4.6zM403.7 493.0h4.6v4.6h-4.6zM403.7 506.2h4.6v4.6h-4.6zM403.7 532.6h4.6v4.6h-4.6zM403.7 539.2h4.6v4.6h-4.6zM403.7 568.9h4.6v4.6h-4.6zM403.7 592.0h4.6v4.6h-4.6zM407.0 450.1h4.6v4.6h-4.6zM407.0 496.3h4.6v4.6h-4.6zM407.0 499.6h4.6v4.6h-4.6zM407.0 502.9h4.6v4.6h-4.6zM407.0 506.2h4.6v4.6h-4.6zM407.0 592.0h4.6v4.6h-4.6zM410.3 403.9h4.6v4.6h-4.6zM410.3 473.2h4.6v4.6h-4.6zM410.3 493.0h4.6v4.6h-4.6zM410.3 502.9h4.6v4.6h-4.6zM410.3 506.2h4.6v4.6h-4.6zM410.3 516.1h4.6v4.6h-4.6zM410.3 532.6h4.6v4.6h-4.6zM413.6 407.2h4.6v4.6h-4.6zM413.6 453.4h4.6v4.6h-4.6zM413.6 463.3h4.6v4.6h-4.6zM413.6 473.2h4.6v4.6h-4.6zM413.6 486.4h4.6v4.6h-4.6zM413.6 489.7h4.6v4.6h-4.6zM413.6 509.5h4.6v4.6h-4.6zM413.6 516.1h4.6v4.6h-4.6zM413.6 519.4h4.6v4.6h-4.6zM416.9 347.8h4.6v4.6h-4.6zM416.9 479.8h4.6v4.6h-4.6zM416.9 509.5h4.6v4.6h-4.6zM416.9 601.9h4.6v4.6h-4.6zM420.2 456.7h4.6v4.6h-4.6zM420.2 463.3h4.6v4.6h-4.6zM420.2 476.5h4.6v4.6h-4.6zM420.2 542.5h4.6v4.6h-4.6zM420.2 552.4h4.6v4.6h-4.6zM420.2 592.0h4.6v4.6h-4.6zM423.5 370.9h4.6v4.6h-4.6zM423.5 423.7h4.6v4.6h-4.6zM423.5 433.6h4.6v4.6h-4.6zM423.5 436.9h4.6v4.6h-4.6zM423.5 479.8h4.6v4.6h-4.6zM423.5 526.0h4.6v4.6h-4.6zM426.8 407.2h4.6v4.6h-4.6zM426.8 489.7h4.6v4.6h-4.6zM426.8 516.1h4.6v4.6h-4.6zM426.8 535.9h4.6v4.6h-4.6zM426.8 545.8h4.6v4.6h-4.6zM430.1 423.7h4.6v4.6h-4.6zM430.1 433.6h4.6v4.6h-4.6zM430.1 440.2h4.6v4.6h-4.6zM430.1 496.3h4.6v4.6h-4.6zM430.1 506.2h4.6v4.6h-4.6zM430.1 526.0h4.6v4.6h-4.6zM430.1 572.2h4.6v4.6h-4.6zM430.1 588.7h4.6v4.6h-4.6zM430.1 598.6h4.6v4.6h-4.6zM430.1 601.9h4.6v4.6h-4.6zM433.4 364.3h4.6v4.6h-4.6zM433.4 493.0h4.6v4.6h-4.6zM433.4 502.9h4.6v4.6h-4.6zM433.4 601.9h4.6v4.6h-4.6zM436.7 318.1h4.6v4.6h-4.6zM436.7 403.9h4.6v4.6h-4.6zM436.7 417.1h4.6v4.6h-4.6zM436.7 423.7h4.6v4.6h-4.6zM436.7 453.4h4.6v4.6h-4.6zM436.7 460.0h4.6v4.6h-4.6zM436.7 493.0h4.6v4.6h-4.6zM436.7 572.2h4.6v4.6h-4.6zM440.0 400.6h4.6v4.6h-4.6zM440.0 430.3h4.6v4.6h-4.6zM440.0 433.6h4.6v4.6h-4.6zM440.0 440.2h4.6v4.6h-4.6zM440.0 450.1h4.6v4.6h-4.6zM440.0 535.9h4.6v4.6h-4.6zM440.0 575.5h4.6v4.6h-4.6zM440.0 595.3h4.6v4.6h-4.6zM443.3 357.7h4.6v4.6h-4.6zM443.3 476.5h4.6v4.6h-4.6zM446.6 456.7h4.6v4.6h-4.6zM446.6 460.0h4.6v4.6h-4.6zM446.6 493.0h4.6v4.6h-4.6zM446.6 522.7h4.6v4.6h-4.6zM446.6 568.9h4.6v4.6h-4.6zM449.9 394.0h4.6v4.6h-4.6zM449.9 427.0h4.6v4.6h-4.6zM449.9 466.6h4.6v4.6h-4.6zM449.9 479.8h4.6v4.6h-4.6zM449.9 496.3h4.6v4.6h-4.6zM449.9 542.5h4.6v4.6h-4.6zM453.2 397.3h4.6v4.6h-4.6zM453.2 440.2h4.6v4.6h-4.6zM453.2 469.9h4.6v4.6h-4.6zM453.2 479.8h4.6v4.6h-4.6zM453.2 509.5h4.6v4.6h-4.6zM453.2 512.8h4.6v4.6h-4.6zM453.2 519.4h4.6v4.6h-4.6zM453.2 545.8h4.6v4.6h-4.6zM456.5 403.9h4.6v4.6h-4.6zM456.5 453.4h4.6v4.6h-4.6zM456.5 460.0h4.6v4.6h-4.6zM456.5 476.5h4.6v4.6h-4.6zM456.5 532.6h4.6v4.6h-4.6zM456.5 535.9h4.6v4.6h-4.6zM456.5 562.3h4.6v4.6h-4.6zM456.5 568.9h4.6v4.6h-4.6zM459.8 341.2h4.6v4.6h-4.6zM459.8 357.7h4.6v4.6h-4.6zM459.8 400.6h4.6v4.6h-4.6zM459.8 410.5h4.6v4.6h-4.6zM459.8 443.5h4.6v4.6h-4.6zM459.8 479.8h4.6v4.6h-4.6zM459.8 483.1h4.6v4.6h-4.6zM459.8 493.0h4.6v4.6h-4.6zM463.1 209.2h4.6v4.6h-4.6zM463.1 499.6h4.6v4.6h-4.6zM463.1 542.5h4.6v4.6h-4.6zM463.1 588.7h4.6v4.6h-4.6zM466.4 417.1h4.6v4.6h-4.6zM466.4 436.9h4.6v4.6h-4.6zM466.4 440.2h4.6v4.6h-4.6zM466.4 450.1h4.6v4.6h-4.6zM466.4 463.3h4.6v4.6h-4.6zM466.4 466.6h4.6v4.6h-4.6zM469.7 361.0h4.6v4.6h-4.6zM469.7 417.1h4.6v4.6h-4.6zM469.7 456.7h4.6v4.6h-4.6zM469.7 522.7h4.6v4.6h-4.6zM473.0 469.9h4.6v4.6h-4.6zM476.3 394.0h4.6v4.6h-4.6zM476.3 400.6h4.6v4.6h-4.6zM476.3 446.8h4.6v4.6h-4.6zM476.3 463.3h4.6v4.6h-4.6zM476.3 496.3h4.6v4.6h-4.6zM476.3 502.9h4.6v4.6h-4.6zM476.3 516.1h4.6v4.6h-4.6zM479.6 423.7h4.6v4.6h-4.6zM479.6 549.1h4.6v4.6h-4.6zM479.6 592.0h4.6v4.6h-4.6zM482.9 446.8h4.6v4.6h-4.6zM482.9 489.7h4.6v4.6h-4.6zM482.9 506.2h4.6v4.6h-4.6zM482.9 509.5h4.6v4.6h-4.6zM482.9 522.7h4.6v4.6h-4.6zM482.9 572.2h4.6v4.6h-4.6zM482.9 601.9h4.6v4.6h-4.6zM486.2 476.5h4.6v4.6h-4.6zM486.2 506.2h4.6v4.6h-4.6zM486.2 549.1h4.6v4.6h-4.6zM486.2 559.0h4.6v4.6h-4.6zM486.2 601.9h4.6v4.6h-4.6zM489.5 212.5h4.6v4.6h-4.6zM489.5 410.5h4.6v4.6h-4.6zM489.5 559.0h4.6v4.6h-4.6zM492.8 394.0h4.6v4.6h-4.6zM492.8 446.8h4.6v4.6h-4.6zM492.8 453.4h4.6v4.6h-4.6zM492.8 469.9h4.6v4.6h-4.6zM492.8 486.4h4.6v4.6h-4.6zM492.8 512.8h4.6v4.6h-4.6zM492.8 519.4h4.6v4.6h-4.6zM496.1 463.3h4.6v4.6h-4.6zM499.4 575.5h4.6v4.6h-4.6zM499.4 582.1h4.6v4.6h-4.6zM499.4 598.6h4.6v4.6h-4.6zM502.7 453.4h4.6v4.6h-4.6zM502.7 516.1h4.6v4.6h-4.6zM502.7 578.8h4.6v4.6h-4.6zM506.0 390.7h4.6v4.6h-4.6zM506.0 463.3h4.6v4.6h-4.6zM506.0 522.7h4.6v4.6h-4.6zM506.0 552.4h4.6v4.6h-4.6zM509.3 486.4h4.6v4.6h-4.6zM509.3 512.8h4.6v4.6h-4.6zM509.3 535.9h4.6v4.6h-4.6zM512.6 559.0h4.6v4.6h-4.6zM512.6 562.3h4.6v4.6h-4.6zM512.6 568.9h4.6v4.6h-4.6zM515.9 486.4h4.6v4.6h-4.6zM515.9 489.7h4.6v4.6h-4.6zM515.9 572.2h4.6v4.6h-4.6zM519.2 420.4h4.6v4.6h-4.6zM519.2 423.7h4.6v4.6h-4.6zM519.2 502.9h4.6v4.6h-4.6zM522.5 328.0h4.6v4.6h-4.6zM522.5 413.8h4.6v4.6h-4.6zM522.5 430.3h4.6v4.6h-4.6zM522.5 486.4h4.6v4.6h-4.6zM522.5 489.7h4.6v4.6h-4.6zM522.5 605.2h4.6v4.6h-4.6zM525.8 535.9h4.6v4.6h-4.6zM525.8 592.0h4.6v4.6h-4.6zM529.1 440.2h4.6v4.6h-4.6zM529.1 443.5h4.6v4.6h-4.6zM529.1 582.1h4.6v4.6h-4.6zM532.4 453.4h4.6v4.6h-4.6zM535.7 430.3h4.6v4.6h-4.6zM539.0 473.2h4.6v4.6h-4.6zM539.0 483.1h4.6v4.6h-4.6zM539.0 539.2h4.6v4.6h-4.6zM542.3 483.1h4.6v4.6h-4.6zM542.3 535.9h4.6v4.6h-4.6zM545.6 516.1h4.6v4.6h-4.6zM548.9 483.1h4.6v4.6h-4.6zM548.9 486.4h4.6v4.6h-4.6zM552.2 466.6h4.6v4.6h-4.6zM552.2 539.2h4.6v4.6h-4.6zM555.5 506.2h4.6v4.6h-4.6zM555.5 519.4h4.6v4.6h-4.6zM555.5 549.1h4.6v4.6h-4.6zM558.8 397.3h4.6v4.6h-4.6zM562.1 430.3h4.6v4.6h-4.6zM562.1 433.6h4.6v4.6h-4.6zM565.4 440.2h4.6v4.6h-4.6zM565.4 572.2h4.6v4.6h-4.6zM565.4 585.4h4.6v4.6h-4.6zM568.7 423.7h4.6v4.6h-4.6zM568.7 463.3h4.6v4.6h-4.6zM568.7 512.8h4.6v4.6h-4.6zM568.7 582.1h4.6v4.6h-4.6zM572.0 403.9h4.6v4.6h-4.6zM572.0 446.8h4.6v4.6h-4.6zM572.0 469.9h4.6v4.6h-4.6zM578.6 440.2h4.6v4.6h-4.6zM578.6 493.0h4.6v4.6h-4.6zM581.9 417.1h4.6v4.6h-4.6zM581.9 595.3h4.6v4.6h-4.6zM585.2 423.7h4.6v4.6h-4.6zM585.2 443.5h4.6v4.6h-4.6zM585.2 473.2h4.6v4.6h-4.6zM585.2 572.2h4.6v4.6h-4.6zM588.5 394.0h4.6v4.6h-4.6zM591.8 440.2h4.6v4.6h-4.6zM591.8 529.3h4.6v4.6h-4.6zM591.8 542.5h4.6v4.6h-4.6zM595.1 565.6h4.6v4.6h-4.6zM601.7 469.9h4.6v4.6h-4.6zM601.7 516.1h4.6v4.6h-4.6zM611.6 476.5h4.6v4.6h-4.6zM611.6 512.8h4.6v4.6h-4.6zM614.9 575.5h4.6v4.6h-4.6zM624.8 446.8h4.6v4.6h-4.6zM624.8 456.7h4.6v4.6h-4.6zM624.8 479.8h4.6v4.6h-4.6zM624.8 555.7h4.6v4.6h-4.6zM628.1 496.3h4.6v4.6h-4.6zM631.4 529.3h4.6v4.6h-4.6zM634.7 496.3h4.6v4.6h-4.6zM634.7 532.6h4.6v4.6h-4.6zM641.3 496.3h4.6v4.6h-4.6zM641.3 605.2h4.6v4.6h-4.6zM651.2 545.8h4.6v4.6h-4.6zM654.5 483.1h4.6v4.6h-4.6zM654.5 539.2h4.6v4.6h-4.6zM657.8 407.2h4.6v4.6h-4.6zM657.8 479.8h4.6v4.6h-4.6zM661.1 542.5h4.6v4.6h-4.6zM664.4 423.7h4.6v4.6h-4.6zM674.3 433.6h4.6v4.6h-4.6zM674.3 456.7h4.6v4.6h-4.6zM680.9 496.3h4.6v4.6h-4.6zM684.2 417.1h4.6v4.6h-4.6zM684.2 460.0h4.6v4.6h-4.6zM684.2 469.9h4.6v4.6h-4.6zM687.5 433.6h4.6v4.6h-4.6zM690.8 400.6h4.6v4.6h-4.6zM697.4 526.0h4.6v4.6h-4.6zM700.7 420.4h4.6v4.6h-4.6zM700.7 443.5h4.6v4.6h-4.6zM713.9 456.7h4.6v4.6h-4.6zM713.9 519.4h4.6v4.6h-4.6zM720.5 410.5h4.6v4.6h-4.6zM727.1 384.1h4.6v4.6h-4.6zM730.4 502.9h4.6v4.6h-4.6zM733.7 304.9h4.6v4.6h-4.6zM740.3 450.1h4.6v4.6h-4.6zM743.6 311.5h4.6v4.6h-4.6zM746.9 215.8h4.6v4.6h-4.6zM746.9 519.4h4.6v4.6h-4.6zM750.2 436.9h4.6v4.6h-4.6zM753.5 229.0h4.6v4.6h-4.6zM753.5 390.7h4.6v4.6h-4.6zM756.8 506.2h4.6v4.6h-4.6zM756.8 516.1h4.6v4.6h-4.6zM760.1 512.8h4.6v4.6h-4.6zM763.4 440.2h4.6v4.6h-4.6zM779.9 436.9h4.6v4.6h-4.6zM779.9 502.9h4.6v4.6h-4.6z"/>
<rect x="178.3" y="34.4" width="630.9" height="625.9" fill="none" stroke="#0c0c0c" stroke-width="4.8"/>
<line x1="178.3" y1="660.3" x2="178.3" y2="682.3" stroke="#0c0c0c" stroke-width="4.8" stroke-linecap="butt"/>
<line x1="336.0" y1="660.3" x2="336.0" y2="682.3" stroke="#0c0c0c" stroke-width="4.8" stroke-linecap="butt"/>
<line x1="493.8" y1="660.3" x2="493.8" y2="682.3" stroke="#0c0c0c" stroke-width="4.8" stroke-linecap="butt"/>
<line x1="651.5" y1="660.3" x2="651.5" y2="682.3" stroke="#0c0c0c" stroke-width="4.8" stroke-linecap="butt"/>
<line x1="809.2" y1="660.3" x2="809.2" y2="682.3" stroke="#0c0c0c" stroke-width="4.8" stroke-linecap="butt"/>
<line x1="156.3" y1="34.4" x2="178.3" y2="34.4" stroke="#0c0c0c" stroke-width="4.8" stroke-linecap="butt"/>
<line x1="156.3" y1="192.5" x2="178.3" y2="192.5" stroke="#0c0c0c" stroke-width="4.8" stroke-linecap="butt"/>
<line x1="156.3" y1="347.3" x2="178.3" y2="347.3" stroke="#0c0c0c" stroke-width="4.8" stroke-linecap="butt"/>
<line x1="156.3" y1="505.3" x2="178.3" y2="505.3" stroke="#0c0c0c" stroke-width="4.8" stroke-linecap="butt"/>
<line x1="156.3" y1="660.3" x2="178.3" y2="660.3" stroke="#0c0c0c" stroke-width="4.8" stroke-linecap="butt"/>
<path fill="#0c0c0c" d="M189.3 523.1h4.3v4.3h-4.3zM189.3 526.4h4.3v4.3h-4.3zM189.3 529.6h4.3v4.3h-4.3zM189.3 532.9h4.3v4.3h-4.3zM192.6 500.0h4.3v4.3h-4.3zM192.6 503.3h4.3v4.3h-4.3zM192.6 506.6h4.3v4.3h-4.3zM192.6 509.9h4.3v4.3h-4.3zM192.6 513.2h4.3v4.3h-4.3zM192.6 516.5h4.3v4.3h-4.3zM192.6 519.8h4.3v4.3h-4.3zM192.6 536.2h4.3v4.3h-4.3zM195.9 480.2h4.3v4.3h-4.3zM195.9 483.5h4.3v4.3h-4.3zM195.9 486.8h4.3v4.3h-4.3zM195.9 490.1h4.3v4.3h-4.3zM195.9 493.4h4.3v4.3h-4.3zM195.9 496.7h4.3v4.3h-4.3zM195.9 539.5h4.3v4.3h-4.3zM199.2 457.2h4.3v4.3h-4.3zM199.2 460.5h4.3v4.3h-4.3zM199.2 463.8h4.3v4.3h-4.3zM199.2 467.1h4.3v4.3h-4.3zM199.2 470.4h4.3v4.3h-4.3zM199.2 473.6h4.3v4.3h-4.3zM199.2 476.9h4.3v4.3h-4.3zM199.2 542.8h4.3v4.3h-4.3zM199.2 546.1h4.3v4.3h-4.3zM202.5 434.1h4.3v4.3h-4.3zM202.5 437.4h4.3v4.3h-4.3zM202.5 440.7h4.3v4.3h-4.3zM202.5 444.0h4.3v4.3h-4.3zM202.5 447.3h4.3v4.3h-4.3zM202.5 450.6h4.3v4.3h-4.3zM202.5 453.9h4.3v4.3h-4.3zM202.5 549.4h4.3v4.3h-4.3zM205.8 414.4h4.3v4.3h-4.3zM205.8 417.6h4.3v4.3h-4.3zM205.8 420.9h4.3v4.3h-4.3zM205.8 424.2h4.3v4.3h-4.3zM205.8 427.5h4.3v4.3h-4.3zM205.8 430.8h4.3v4.3h-4.3zM205.8 552.7h4.3v4.3h-4.3zM209.1 391.3h4.3v4.3h-4.3zM209.1 394.6h4.3v4.3h-4.3zM209.1 397.9h4.3v4.3h-4.3zM209.1 401.2h4.3v4.3h-4.3zM209.1 404.5h4.3v4.3h-4.3zM209.1 407.8h4.3v4.3h-4.3zM209.1 411.1h4.3v4.3h-4.3zM209.1 556.0h4.3v4.3h-4.3zM212.4 374.8h4.3v4.3h-4.3zM212.4 378.1h4.3v4.3h-4.3zM212.4 381.4h4.3v4.3h-4.3zM212.4 384.7h4.3v4.3h-4.3zM212.4 388.0h4.3v4.3h-4.3zM212.4 559.3h4.3v4.3h-4.3zM215.7 364.9h4.3v4.3h-4.3zM215.7 368.2h4.3v4.3h-4.3zM215.7 371.5h4.3v4.3h-4.3zM215.7 562.6h4.3v4.3h-4.3zM215.7 565.9h4.3v4.3h-4.3zM219.0 358.4h4.3v4.3h-4.3zM219.0 361.6h4.3v4.3h-4.3zM219.0 569.2h4.3v4.3h-4.3zM222.3 358.4h4.3v4.3h-4.3zM222.3 572.5h4.3v4.3h-4.3zM225.6 358.4h4.3v4.3h-4.3zM225.6 575.8h4.3v4.3h-4.3zM228.9 358.4h4.3v4.3h-4.3zM228.9 579.1h4.3v4.3h-4.3zM232.1 358.4h4.3v4.3h-4.3zM232.1 582.3h4.3v4.3h-4.3zM232.1 585.6h4.3v4.3h-4.3zM235.4 358.4h4.3v4.3h-4.3zM235.4 588.9h4.3v4.3h-4.3zM238.7 358.4h4.3v4.3h-4.3zM238.7 592.2h4.3v4.3h-4.3zM242.0 358.4h4.3v4.3h-4.3zM242.0 592.2h4.3v4.3h-4.3zM245.3 358.4h4.3v4.3h-4.3zM245.3 592.2h4.3v4.3h-4.3zM248.6 358.4h4.3v4.3h-4.3zM248.6 592.2h4.3v4.3h-4.3zM251.9 358.4h4.3v4.3h-4.3zM251.9 595.5h4.3v4.3h-4.3zM255.2 358.4h4.3v4.3h-4.3zM255.2 595.5h4.3v4.3h-4.3zM258.5 358.4h4.3v4.3h-4.3zM258.5 595.5h4.3v4.3h-4.3zM261.8 358.4h4.3v4.3h-4.3zM261.8 595.5h4.3v4.3h-4.3zM265.1 361.6h4.3v4.3h-4.3zM265.1 595.5h4.3v4.3h-4.3zM268.4 361.6h4.3v4.3h-4.3zM268.4 595.5h4.3v4.3h-4.3zM271.7 361.6h4.3v4.3h-4.3zM271.7 595.5h4.3v4.3h-4.3zM275.0 361.6h4.3v4.3h-4.3zM275.0 598.8h4.3v4.3h-4.3zM278.3 361.6h4.3v4.3h-4.3zM278.3 598.8h4.3v4.3h-4.3zM281.6 361.6h4.3v4.3h-4.3zM281.6 598.8h4.3v4.3h-4.3zM284.9 361.6h4.3v4.3h-4.3zM284.9 598.8h4.3v4.3h-4.3zM288.1 361.6h4.3v4.3h-4.3zM288.1 598.8h4.3v4.3h-4.3zM291.4 361.6h4.3v4.3h-4.3zM291.4 598.8h4.3v4.3h-4.3zM294.7 361.6h4.3v4.3h-4.3zM294.7 598.8h4.3v4.3h-4.3zM298.0 361.6h4.3v4.3h-4.3zM298.0 602.1h4.3v4.3h-4.3zM301.3 361.6h4.3v4.3h-4.3zM301.3 602.1h4.3v4.3h-4.3zM304.6 364.9h4.3v4.3h-4.3zM304.6 602.1h4.3v4.3h-4.3zM307.9 364.9h4.3v4.3h-4.3zM307.9 602.1h4.3v4.3h-4.3zM311.2 364.9h4.3v4.3h-4.3zM311.2 602.1h4.3v4.3h-4.3zM314.5 364.9h4.3v4.3h-4.3zM314.5 602.1h4.3v4.3h-4.3zM317.8 364.9h4.3v4.3h-4.3zM317.8 602.1h4.3v4.3h-4.3zM321.1 364.9h4.3v4.3h-4.3zM321.1 605.4h4.3v4.3h-4.3zM324.4 364.9h4.3v4.3h-4.3zM324.4 605.4h4.3v4.3h-4.3zM327.7 364.9h4.3v4.3h-4.3zM327.7 605.4h4.3v4.3h-4.3zM331.0 364.9h4.3v4.3h-4.3zM331.0 605.4h4.3v4.3h-4.3zM334.3 364.9h4.3v4.3h-4.3zM334.3 605.4h4.3v4.3h-4.3zM337.6 364.9h4.3v4.3h-4.3zM337.6 605.4h4.3v4.3h-4.3zM340.9 364.9h4.3v4.3h-4.3zM340.9 605.4h4.3v4.3h-4.3zM344.1 368.2h4.3v4.3h-4.3zM344.1 608.7h4.3v4.3h-4.3zM347.4 368.2h4.3v4.3h-4.3zM347.4 608.7h4.3v4.3h-4.3zM350.7 368.2h4.3v4.3h-4.3zM350.7 608.7h4.3v4.3h-4.3zM354.0 368.2h4.3v4.3h-4.3zM354.0 608.7h4.3v4.3h-4.3zM357.3 368.2h4.3v4.3h-4.3zM357.3 608.7h4.3v4.3h-4.3zM360.6 368.2h4.3v4.3h-4.3zM360.6 608.7h4.3v4.3h-4.3zM363.9 368.2h4.3v4.3h-4.3zM363.9 608.7h4.3v4.3h-4.3zM367.2 368.2h4.3v4.3h-4.3zM367.2 612.0h4.3v4.3h-4.3zM370.5 368.2h4.3v4.3h-4.3zM370.5 612.0h4.3v4.3h-4.3zM373.8 368.2h4.3v4.3h-4.3zM373.8 612.0h4.3v4.3h-4.3zM377.1 368.2h4.3v4.3h-4.3zM377.1 612.0h4.3v4.3h-4.3zM380.4 368.2h4.3v4.3h-4.3zM380.4 612.0h4.3v4.3h-4.3zM383.7 371.5h4.3v4.3h-4.3zM383.7 612.0h4.3v4.3h-4.3zM387.0 371.5h4.3v4.3h-4.3zM387.0 612.0h4.3v4.3h-4.3zM390.3 371.5h4.3v4.3h-4.3zM390.3 615.3h4.3v4.3h-4.3zM393.6 371.5h4.3v4.3h-4.3zM393.6 615.3h4.3v4.3h-4.3zM396.8 371.5h4.3v4.3h-4.3zM396.8 615.3h4.3v4.3h-4.3zM400.1 371.5h4.3v4.3h-4.3zM400.1 615.3h4.3v4.3h-4.3zM403.4 371.5h4.3v4.3h-4.3zM403.4 615.3h4.3v4.3h-4.3zM406.7 371.5h4.3v4.3h-4.3zM406.7 615.3h4.3v4.3h-4.3zM410.0 371.5h4.3v4.3h-4.3zM410.0 615.3h4.3v4.3h-4.3zM413.3 371.5h4.3v4.3h-4.3zM413.3 618.6h4.3v4.3h-4.3zM416.6 371.5h4.3v4.3h-4.3zM416.6 618.6h4.3v4.3h-4.3zM419.9 371.5h4.3v4.3h-4.3zM419.9 618.6h4.3v4.3h-4.3zM423.2 371.5h4.3v4.3h-4.3zM423.2 618.6h4.3v4.3h-4.3zM426.5 371.5h4.3v4.3h-4.3zM426.5 618.6h4.3v4.3h-4.3zM429.8 371.5h4.3v4.3h-4.3zM429.8 618.6h4.3v4.3h-4.3zM433.1 374.8h4.3v4.3h-4.3zM433.1 618.6h4.3v4.3h-4.3zM436.4 374.8h4.3v4.3h-4.3zM436.4 621.9h4.3v4.3h-4.3zM439.7 374.8h4.3v4.3h-4.3zM439.7 621.9h4.3v4.3h-4.3zM443.0 374.8h4.3v4.3h-4.3zM443.0 621.9h4.3v4.3h-4.3zM446.3 374.8h4.3v4.3h-4.3zM446.3 621.9h4.3v4.3h-4.3zM449.6 374.8h4.3v4.3h-4.3zM449.6 621.9h4.3v4.3h-4.3zM452.8 374.8h4.3v4.3h-4.3zM452.8 621.9h4.3v4.3h-4.3zM456.1 374.8h4.3v4.3h-4.3zM456.1 621.9h4.3v4.3h-4.3zM459.4 374.8h4.3v4.3h-4.3zM459.4 625.2h4.3v4.3h-4.3zM462.7 374.8h4.3v4.3h-4.3zM462.7 625.2h4.3v4.3h-4.3zM466.0 371.5h4.3v4.3h-4.3zM466.0 625.2h4.3v4.3h-4.3zM469.3 368.2h4.3v4.3h-4.3zM469.3 625.2h4.3v4.3h-4.3zM472.6 368.2h4.3v4.3h-4.3zM472.6 625.2h4.3v4.3h-4.3zM475.9 368.2h4.3v4.3h-4.3zM475.9 625.2h4.3v4.3h-4.3zM479.2 368.2h4.3v4.3h-4.3zM479.2 625.2h4.3v4.3h-4.3zM482.5 368.2h4.3v4.3h-4.3zM482.5 628.5h4.3v4.3h-4.3zM485.8 368.2h4.3v4.3h-4.3zM485.8 628.5h4.3v4.3h-4.3zM489.1 368.2h4.3v4.3h-4.3zM489.1 628.5h4.3v4.3h-4.3zM492.4 368.2h4.3v4.3h-4.3zM492.4 628.5h4.3v4.3h-4.3zM495.7 368.2h4.3v4.3h-4.3zM495.7 628.5h4.3v4.3h-4.3zM499.0 368.2h4.3v4.3h-4.3zM499.0 628.5h4.3v4.3h-4.3zM502.3 368.2h4.3v4.3h-4.3zM502.3 628.5h4.3v4.3h-4.3zM505.6 368.2h4.3v4.3h-4.3zM505.6 628.5h4.3v4.3h-4.3zM508.8 368.2h4.3v4.3h-4.3zM508.8 625.2h4.3v4.3h-4.3zM512.1 368.2h4.3v4.3h-4.3zM512.1 625.2h4.3v4.3h-4.3zM515.4 368.2h4.3v4.3h-4.3zM515.4 625.2h4.3v4.3h-4.3zM518.7 368.2h4.3v4.3h-4.3zM518.7 625.2h4.3v4.3h-4.3zM522.0 368.2h4.3v4.3h-4.3zM522.0 621.9h4.3v4.3h-4.3zM525.3 368.2h4.3v4.3h-4.3zM525.3 621.9h4.3v4.3h-4.3zM528.6 368.2h4.3v4.3h-4.3zM528.6 621.9h4.3v4.3h-4.3zM531.9 368.2h4.3v4.3h-4.3zM531.9 621.9h4.3v4.3h-4.3zM535.2 368.2h4.3v4.3h-4.3zM535.2 618.6h4.3v4.3h-4.3zM538.5 368.2h4.3v4.3h-4.3zM538.5 618.6h4.3v4.3h-4.3zM541.8 368.2h4.3v4.3h-4.3zM541.8 618.6h4.3v4.3h-4.3zM545.1 368.2h4.3v4.3h-4.3zM545.1 618.6h4.3v4.3h-4.3zM548.4 368.2h4.3v4.3h-4.3zM548.4 615.3h4.3v4.3h-4.3zM551.7 368.2h4.3v4.3h-4.3zM551.7 615.3h4.3v4.3h-4.3zM555.0 368.2h4.3v4.3h-4.3zM555.0 615.3h4.3v4.3h-4.3zM558.3 364.9h4.3v4.3h-4.3zM558.3 615.3h4.3v4.3h-4.3zM561.5 364.9h4.3v4.3h-4.3zM561.5 612.0h4.3v4.3h-4.3zM564.8 364.9h4.3v4.3h-4.3zM564.8 612.0h4.3v4.3h-4.3zM568.1 364.9h4.3v4.3h-4.3zM568.1 612.0h4.3v4.3h-4.3zM571.4 364.9h4.3v4.3h-4.3zM571.4 612.0h4.3v4.3h-4.3zM574.7 364.9h4.3v4.3h-4.3zM574.7 608.7h4.3v4.3h-4.3zM578.0 364.9h4.3v4.3h-4.3zM578.0 608.7h4.3v4.3h-4.3zM581.3 364.9h4.3v4.3h-4.3zM581.3 608.7h4.3v4.3h-4.3zM584.6 364.9h4.3v4.3h-4.3zM584.6 608.7h4.3v4.3h-4.3zM587.9 364.9h4.3v4.3h-4.3zM587.9 605.4h4.3v4.3h-4.3zM591.2 364.9h4.3v4.3h-4.3zM591.2 605.4h4.3v4.3h-4.3zM594.5 364.9h4.3v4.3h-4.3zM594.5 605.4h4.3v4.3h-4.3zM597.8 364.9h4.3v4.3h-4.3zM597.8 605.4h4.3v4.3h-4.3zM601.1 364.9h4.3v4.3h-4.3zM601.1 602.1h4.3v4.3h-4.3zM604.4 364.9h4.3v4.3h-4.3zM604.4 602.1h4.3v4.3h-4.3zM607.7 368.2h4.3v4.3h-4.3zM607.7 602.1h4.3v4.3h-4.3zM611.0 371.5h4.3v4.3h-4.3zM611.0 602.1h4.3v4.3h-4.3zM614.3 371.5h4.3v4.3h-4.3zM614.3 598.8h4.3v4.3h-4.3zM617.5 374.8h4.3v4.3h-4.3zM617.5 598.8h4.3v4.3h-4.3zM620.8 378.1h4.3v4.3h-4.3zM620.8 598.8h4.3v4.3h-4.3zM624.1 381.4h4.3v4.3h-4.3zM624.1 598.8h4.3v4.3h-4.3zM627.4 384.7h4.3v4.3h-4.3zM627.4 595.5h4.3v4.3h-4.3zM630.7 384.7h4.3v4.3h-4.3zM630.7 595.5h4.3v4.3h-4.3zM634.0 388.0h4.3v4.3h-4.3zM634.0 595.5h4.3v4.3h-4.3zM637.3 391.3h4.3v4.3h-4.3zM637.3 595.5h4.3v4.3h-4.3zM640.6 394.6h4.3v4.3h-4.3zM640.6 592.2h4.3v4.3h-4.3zM643.9 394.6h4.3v4.3h-4.3zM643.9 592.2h4.3v4.3h-4.3zM647.2 397.9h4.3v4.3h-4.3zM647.2 588.9h4.3v4.3h-4.3zM650.5 401.2h4.3v4.3h-4.3zM650.5 582.3h4.3v4.3h-4.3zM650.5 585.6h4.3v4.3h-4.3zM653.8 404.5h4.3v4.3h-4.3zM653.8 579.1h4.3v4.3h-4.3zM657.1 407.8h4.3v4.3h-4.3zM657.1 575.8h4.3v4.3h-4.3zM660.4 407.8h4.3v4.3h-4.3zM660.4 572.5h4.3v4.3h-4.3zM663.7 411.1h4.3v4.3h-4.3zM663.7 569.2h4.3v4.3h-4.3zM667.0 414.4h4.3v4.3h-4.3zM667.0 417.6h4.3v4.3h-4.3zM667.0 562.6h4.3v4.3h-4.3zM667.0 565.9h4.3v4.3h-4.3zM670.3 420.9h4.3v4.3h-4.3zM670.3 424.2h4.3v4.3h-4.3zM670.3 559.3h4.3v4.3h-4.3zM673.5 427.5h4.3v4.3h-4.3zM673.5 430.8h4.3v4.3h-4.3zM673.5 434.1h4.3v4.3h-4.3zM673.5 437.4h4.3v4.3h-4.3zM673.5 556.0h4.3v4.3h-4.3zM676.8 440.7h4.3v4.3h-4.3zM676.8 444.0h4.3v4.3h-4.3zM676.8 447.3h4.3v4.3h-4.3zM676.8 450.6h4.3v4.3h-4.3zM676.8 453.9h4.3v4.3h-4.3zM676.8 457.2h4.3v4.3h-4.3zM676.8 552.7h4.3v4.3h-4.3zM680.1 460.5h4.3v4.3h-4.3zM680.1 463.8h4.3v4.3h-4.3zM680.1 467.1h4.3v4.3h-4.3zM680.1 470.4h4.3v4.3h-4.3zM680.1 473.6h4.3v4.3h-4.3zM680.1 476.9h4.3v4.3h-4.3zM680.1 546.1h4.3v4.3h-4.3zM680.1 549.4h4.3v4.3h-4.3zM683.4 480.2h4.3v4.3h-4.3zM683.4 483.5h4.3v4.3h-4.3zM683.4 486.8h4.3v4.3h-4.3zM683.4 490.1h4.3v4.3h-4.3zM683.4 493.4h4.3v4.3h-4.3zM683.4 496.7h4.3v4.3h-4.3zM683.4 542.8h4.3v4.3h-4.3zM686.7 500.0h4.3v4.3h-4.3zM686.7 503.3h4.3v4.3h-4.3zM686.7 506.6h4.3v4.3h-4.3zM686.7 509.9h4.3v4.3h-4.3zM686.7 513.2h4.3v4.3h-4.3zM686.7 516.5h4.3v4.3h-4.3zM686.7 536.2h4.3v4.3h-4.3zM686.7 539.5h4.3v4.3h-4.3zM690.0 519.8h4.3v4.3h-4.3zM690.0 523.1h4.3v4.3h-4.3zM690.0 526.4h4.3v4.3h-4.3zM690.0 529.6h4.3v4.3h-4.3zM690.0 532.9h4.3v4.3h-4.3z"/>
<path fill="#ff0808" d="M1223.1 502.7h4.6v4.6h-4.6zM1223.1 532.4h4.6v4.6h-4.6zM1226.4 542.3h4.6v4.6h-4.6zM1226.4 588.5h4.6v4.6h-4.6zM1229.7 591.8h4.6v4.6h-4.6zM1249.5 585.2h4.6v4.6h-4.6zM1252.8 519.2h4.6v4.6h-4.6zM1256.1 515.9h4.6v4.6h-4.6zM1256.1 562.1h4.6v4.6h-4.6zM1259.4 502.7h4.6v4.6h-4.6zM1259.4 565.4h4.6v4.6h-4.6zM1259.4 585.2h4.6v4.6h-4.6zM1259.4 588.5h4.6v4.6h-4.6zM1262.7 555.5h4.6v4.6h-4.6zM1262.7 558.8h4.6v4.6h-4.6zM1262.7 572.0h4.6v4.6h-4.6zM1262.7 578.6h4.6v4.6h-4.6zM1262.7 581.9h4.6v4.6h-4.6zM1262.7 585.2h4.6v4.6h-4.6zM1262.7 588.5h4.6v4.6h-4.6zM1262.7 591.8h4.6v4.6h-4.6zM1262.7 595.1h4.6v4.6h-4.6zM1262.7 598.4h4.6v4.6h-4.6zM1262.7 605.0h4.6v4.6h-4.6zM1266.0 410.3h4.6v4.6h-4.6zM1266.0 486.2h4.6v4.6h-4.6zM1266.0 499.4h4.6v4.6h-4.6zM1266.0 535.7h4.6v4.6h-4.6zM1266.0 555.5h4.6v4.6h-4.6zM1266.0 572.0h4.6v4.6h-4.6zM1266.0 575.3h4.6v4.6h-4.6zM1266.0 578.6h4.6v4.6h-4.6zM1266.0 581.9h4.6v4.6h-4.6zM1266.0 585.2h4.6v4.6h-4.6zM1266.0 588.5h4.6v4.6h-4.6zM1266.0 595.1h4.6v4.6h-4.6zM1266.0 601.7h4.6v4.6h-4.6zM1269.3 476.3h4.6v4.6h-4.6zM1269.3 575.3h4.6v4.6h-4.6zM1269.3 578.6h4.6v4.6h-4.6zM1269.3 581.9h4.6v4.6h-4.6zM1269.3 585.2h4.6v4.6h-4.6zM1269.3 588.5h4.6v4.6h-4.6zM1269.3 591.8h4.6v4.6h-4.6zM1269.3 595.1h4.6v4.6h-4.6zM1269.3 598.4h4.6v4.6h-4.6zM1269.3 605.0h4.6v4.6h-4.6zM1272.6 532.4h4.6v4.6h-4.6zM1272.6 545.6h4.6v4.6h-4.6zM1272.6 555.5h4.6v4.6h-4.6zM1272.6 558.8h4.6v4.6h-4.6zM1272.6 565.4h4.6v4.6h-4.6zM1272.6 568.7h4.6v4.6h-4.6zM1272.6 572.0h4.6v4.6h-4.6zM1272.6 575.3h4.6v4.6h-4.6zM1272.6 578.6h4.6v4.6h-4.6zM1272.6 581.9h4.6v4.6h-4.6zM1272.6 585.2h4.6v4.6h-4.6zM1272.6 591.8h4.6v4.6h-4.6zM1272.6 595.1h4.6v4.6h-4.6zM1275.9 473.0h4.6v4.6h-4.6zM1275.9 506.0h4.6v4.6h-4.6zM1275.9 529.1h4.6v4.6h-4.6zM1275.9 532.4h4.6v4.6h-4.6zM1275.9 545.6h4.6v4.6h-4.6zM1275.9 548.9h4.6v4.6h-4.6zM1275.9 552.2h4.6v4.6h-4.6zM1275.9 555.5h4.6v4.6h-4.6zM1275.9 558.8h4.6v4.6h-4.6zM1275.9 562.1h4.6v4.6h-4.6zM1275.9 565.4h4.6v4.6h-4.6zM1275.9 572.0h4.6v4.6h-4.6zM1275.9 575.3h4.6v4.6h-4.6zM1275.9 578.6h4.6v4.6h-4.6zM1275.9 581.9h4.6v4.6h-4.6zM1275.9 598.4h4.6v4.6h-4.6zM1279.2 489.5h4.6v4.6h-4.6zM1279.2 519.2h4.6v4.6h-4.6zM1279.2 539.0h4.6v4.6h-4.6zM1279.2 545.6h4.6v4.6h-4.6zM1279.2 552.2h4.6v4.6h-4.6zM1279.2 555.5h4.6v4.6h-4.6zM1279.2 558.8h4.6v4.6h-4.6zM1279.2 565.4h4.6v4.6h-4.6zM1279.2 568.7h4.6v4.6h-4.6zM1279.2 572.0h4.6v4.6h-4.6zM1279.2 578.6h4.6v4.6h-4.6zM1279.2 581.9h4.6v4.6h-4.6zM1279.2 585.2h4.6v4.6h-4.6zM1279.2 588.5h4.6v4.6h-4.6zM1279.2 591.8h4.6v4.6h-4.6zM1282.5 374.0h4.6v4.6h-4.6zM1282.5 502.7h4.6v4.6h-4.6zM1282.5 515.9h4.6v4.6h-4.6zM1282.5 519.2h4.6v4.6h-4.6zM1282.5 529.1h4.6v4.6h-4.6zM1282.5 532.4h4.6v4.6h-4.6zM1282.5 535.7h4.6v4.6h-4.6zM1282.5 539.0h4.6v4.6h-4.6zM1282.5 542.3h4.6v4.6h-4.6zM1282.5 548.9h4.6v4.6h-4.6zM1282.5 552.2h4.6v4.6h-4.6zM1282.5 558.8h4.6v4.6h-4.6zM1282.5 562.1h4.6v4.6h-4.6zM1282.5 565.4h4.6v4.6h-4.6zM1282.5 572.0h4.6v4.6h-4.6zM1282.5 575.3h4.6v4.6h-4.6zM1282.5 578.6h4.6v4.6h-4.6zM1282.5 588.5h4.6v4.6h-4.6zM1285.8 486.2h4.6v4.6h-4.6zM1285.8 529.1h4.6v4.6h-4.6zM1285.8 539.0h4.6v4.6h-4.6zM1285.8 542.3h4.6v4.6h-4.6zM1285.8 545.6h4.6v4.6h-4.6zM1285.8 548.9h4.6v4.6h-4.6zM1285.8 552.2h4.6v4.6h-4.6zM1285.8 555.5h4.6v4.6h-4.6zM1285.8 558.8h4.6v4.6h-4.6zM1285.8 562.1h4.6v4.6h-4.6zM1285.8 565.4h4.6v4.6h-4.6zM1285.8 568.7h4.6v4.6h-4.6zM1285.8 572.0h4.6v4.6h-4.6zM1285.8 575.3h4.6v4.6h-4.6zM1285.8 578.6h4.6v4.6h-4.6zM1285.8 581.9h4.6v4.6h-4.6zM1285.8 585.2h4.6v4.6h-4.6zM1285.8 591.8h4.6v4.6h-4.6zM1285.8 598.4h4.6v4.6h-4.6zM1289.1 453.2h4.6v4.6h-4.6zM1289.1 486.2h4.6v4.6h-4.6zM1289.1 489.5h4.6v4.6h-4.6zM1289.1 496.1h4.6v4.6h-4.6zM1289.1 512.6h4.6v4.6h-4.6zM1289.1 522.5h4.6v4.6h-4.6zM1289.1 532.4h4.6v4.6h-4.6zM1289.1 535.7h4.6v4.6h-4.6zM1289.1 539.0h4.6v4.6h-4.6zM1289.1 542.3h4.6v4.6h-4.6zM1289.1 548.9h4.6v4.6h-4.6zM1289.1 552.2h4.6v4.6h-4.6zM1289.1 555.5h4.6v4.6h-4.6zM1289.1 558.8h4.6v4.6h-4.6zM1289.1 562.1h4.6v4.6h-4.6zM1289.1 565.4h4.6v4.6h-4.6zM1289.1 568.7h4.6v4.6h-4.6zM1289.1 572.0h4.6v4.6h-4.6zM1289.1 578.6h4.6v4.6h-4.6zM1289.1 581.9h4.6v4.6h-4.6zM1289.1 585.2h4.6v4.6h-4.6zM1292.4 436.7h4.6v4.6h-4.6zM1292.4 519.2h4.6v4.6h-4.6zM1292.4 522.5h4.6v4.6h-4.6zM1292.4 525.8h4.6v4.6h-4.6zM1292.4 529.1h4.6v4.6h-4.6zM1292.4 532.4h4.6v4.6h-4.6zM1292.4 535.7h4.6v4.6h-4.6zM1292.4 539.0h4.6v4.6h-4.6zM1292.4 542.3h4.6v4.6h-4.6zM1292.4 545.6h4.6v4.6h-4.6zM1292.4 548.9h4.6v4.6h-4.6zM1292.4 552.2h4.6v4.6h-4.6zM1292.4 555.5h4.6v4.6h-4.6zM1292.4 562.1h4.6v4.6h-4.6zM1292.4 572.0h4.6v4.6h-4.6zM1295.7 486.2h4.6v4.6h-4.6zM1295.7 502.7h4.6v4.6h-4.6zM1295.7 506.0h4.6v4.6h-4.6zM1295.7 515.9h4.6v4.6h-4.6zM1295.7 519.2h4.6v4.6h-4.6zM1295.7 522.5h4.6v4.6h-4.6zM1295.7 525.8h4.6v4.6h-4.6zM1295.7 529.1h4.6v4.6h-4.6zM1295.7 535.7h4.6v4.6h-4.6zM1295.7 539.0h4.6v4.6h-4.6zM1295.7 542.3h4.6v4.6h-4.6zM1295.7 545.6h4.6v4.6h-4.6zM1295.7 552.2h4.6v4.6h-4.6zM1295.7 555.5h4.6v4.6h-4.6zM1295.7 558.8h4.6v4.6h-4.6zM1295.7 581.9h4.6v4.6h-4.6zM1299.0 407.0h4.6v4.6h-4.6zM1299.0 449.9h4.6v4.6h-4.6zM1299.0 492.8h4.6v4.6h-4.6zM1299.0 502.7h4.6v4.6h-4.6zM1299.0 509.3h4.6v4.6h-4.6zM1299.0 519.2h4.6v4.6h-4.6zM1299.0 529.1h4.6v4.6h-4.6zM1299.0 539.0h4.6v4.6h-4.6zM1299.0 542.3h4.6v4.6h-4.6zM1299.0 548.9h4.6v4.6h-4.6zM1299.0 552.2h4.6v4.6h-4.6zM1299.0 555.5h4.6v4.6h-4.6zM1299.0 562.1h4.6v4.6h-4.6zM1299.0 565.4h4.6v4.6h-4.6zM1299.0 588.5h4.6v4.6h-4.6zM1302.3 410.3h4.6v4.6h-4.6zM1302.3 499.4h4.6v4.6h-4.6zM1302.3 506.0h4.6v4.6h-4.6zM1302.3 512.6h4.6v4.6h-4.6zM1302.3 519.2h4.6v4.6h-4.6zM1302.3 525.8h4.6v4.6h-4.6zM1302.3 532.4h4.6v4.6h-4.6zM1302.3 535.7h4.6v4.6h-4.6zM1302.3 548.9h4.6v4.6h-4.6zM1302.3 552.2h4.6v4.6h-4.6zM1302.3 555.5h4.6v4.6h-4.6zM1302.3 572.0h4.6v4.6h-4.6zM1305.6 430.1h4.6v4.6h-4.6zM1305.6 476.3h4.6v4.6h-4.6zM1305.6 482.9h4.6v4.6h-4.6zM1305.6 506.0h4.6v4.6h-4.6zM1305.6 512.6h4.6v4.6h-4.6zM1305.6 515.9h4.6v4.6h-4.6zM1305.6 525.8h4.6v4.6h-4.6zM1305.6 532.4h4.6v4.6h-4.6zM1305.6 542.3h4.6v4.6h-4.6zM1305.6 545.6h4.6v4.6h-4.6zM1305.6 558.8h4.6v4.6h-4.6zM1305.6 562.1h4.6v4.6h-4.6zM1305.6 565.4h4.6v4.6h-4.6zM1305.6 585.2h4.6v4.6h-4.6zM1308.9 390.5h4.6v4.6h-4.6zM1308.9 482.9h4.6v4.6h-4.6zM1308.9 499.4h4.6v4.6h-4.6zM1308.9 512.6h4.6v4.6h-4.6zM1308.9 515.9h4.6v4.6h-4.6zM1308.9 519.2h4.6v4.6h-4.6zM1308.9 525.8h4.6v4.6h-4.6zM1308.9 529.1h4.6v4.6h-4.6zM1308.9 532.4h4.6v4.6h-4.6zM1308.9 539.0h4.6v4.6h-4.6zM1308.9 548.9h4.6v4.6h-4.6zM1312.2 416.9h4.6v4.6h-4.6zM1312.2 473.0h4.6v4.6h-4.6zM1312.2 486.2h4.6v4.6h-4.6zM1312.2 515.9h4.6v4.6h-4.6zM1312.2 519.2h4.6v4.6h-4.6zM1312.2 525.8h4.6v4.6h-4.6zM1312.2 529.1h4.6v4.6h-4.6zM1312.2 539.0h4.6v4.6h-4.6zM1315.5 374.0h4.6v4.6h-4.6zM1315.5 403.7h4.6v4.6h-4.6zM1315.5 407.0h4.6v4.6h-4.6zM1315.5 440.0h4.6v4.6h-4.6zM1315.5 499.4h4.6v4.6h-4.6zM1315.5 502.7h4.6v4.6h-4.6zM1315.5 506.0h4.6v4.6h-4.6zM1315.5 515.9h4.6v4.6h-4.6zM1315.5 522.5h4.6v4.6h-4.6zM1315.5 529.1h4.6v4.6h-4.6zM1315.5 535.7h4.6v4.6h-4.6zM1315.5 539.0h4.6v4.6h-4.6zM1315.5 542.3h4.6v4.6h-4.6zM1315.5 545.6h4.6v4.6h-4.6zM1315.5 548.9h4.6v4.6h-4.6zM1315.5 562.1h4.6v4.6h-4.6zM1318.8 449.9h4.6v4.6h-4.6zM1318.8 482.9h4.6v4.6h-4.6zM1318.8 502.7h4.6v4.6h-4.6zM1318.8 506.0h4.6v4.6h-4.6zM1318.8 519.2h4.6v4.6h-4.6zM1318.8 522.5h4.6v4.6h-4.6zM1318.8 525.8h4.6v4.6h-4.6zM1318.8 529.1h4.6v4.6h-4.6zM1318.8 532.4h4.6v4.6h-4.6zM1318.8 535.7h4.6v4.6h-4.6zM1318.8 539.0h4.6v4.6h-4.6zM1318.8 545.6h4.6v4.6h-4.6zM1318.8 548.9h4.6v4.6h-4.6zM1318.8 552.2h4.6v4.6h-4.6zM1322.1 407.0h4.6v4.6h-4.6zM1322.1 466.4h4.6v4.6h-4.6zM1322.1 473.0h4.6v4.6h-4.6zM1322.1 486.2h4.6v4.6h-4.6zM1322.1 496.1h4.6v4.6h-4.6zM1322.1 515.9h4.6v4.6h-4.6zM1322.1 519.2h4.6v4.6h-4.6zM1322.1 529.1h4.6v4.6h-4.6zM1322.1 535.7h4.6v4.6h-4.6zM1322.1 542.3h4.6v4.6h-4.6zM1325.4 476.3h4.6v4.6h-4.6zM1325.4 482.9h4.6v4.6h-4.6zM1325.4 489.5h4.6v4.6h-4.6zM1325.4 492.8h4.6v4.6h-4.6zM1325.4 496.1h4.6v4.6h-4.6zM1325.4 499.4h4.6v4.6h-4.6zM1325.4 506.0h4.6v4.6h-4.6zM1325.4 509.3h4.6v4.6h-4.6zM1325.4 522.5h4.6v4.6h-4.6zM1325.4 532.4h4.6v4.6h-4.6zM1328.7 456.5h4.6v4.6h-4.6zM1328.7 459.8h4.6v4.6h-4.6zM1328.7 463.1h4.6v4.6h-4.6zM1328.7 499.4h4.6v4.6h-4.6zM1328.7 506.0h4.6v4.6h-4.6zM1328.7 509.3h4.6v4.6h-4.6zM1328.7 512.6h4.6v4.6h-4.6zM1328.7 515.9h4.6v4.6h-4.6zM1328.7 519.2h4.6v4.6h-4.6zM1328.7 522.5h4.6v4.6h-4.6zM1332.0 449.9h4.6v4.6h-4.6zM1332.0 459.8h4.6v4.6h-4.6zM1332.0 476.3h4.6v4.6h-4.6zM1332.0 492.8h4.6v4.6h-4.6zM1332.0 496.1h4.6v4.6h-4.6zM1332.0 502.7h4.6v4.6h-4.6zM1332.0 509.3h4.6v4.6h-4.6zM1332.0 512.6h4.6v4.6h-4.6zM1332.0 515.9h4.6v4.6h-4.6zM1332.0 522.5h4.6v4.6h-4.6zM1332.0 535.7h4.6v4.6h-4.6zM1332.0 539.0h4.6v4.6h-4.6zM1335.3 430.1h4.6v4.6h-4.6zM1335.3 449.9h4.6v4.6h-4.6zM1335.3 469.7h4.6v4.6h-4.6zM1335.3 492.8h4.6v4.6h-4.6zM1335.3 499.4h4.6v4.6h-4.6zM1335.3 502.7h4.6v4.6h-4.6zM1335.3 506.0h4.6v4.6h-4.6zM1335.3 509.3h4.6v4.6h-4.6zM1335.3 512.6h4.6v4.6h-4.6zM1335.3 515.9h4.6v4.6h-4.6zM1335.3 525.8h4.6v4.6h-4.6zM1335.3 535.7h4.6v4.6h-4.6zM1338.6 446.6h4.6v4.6h-4.6zM1338.6 456.5h4.6v4.6h-4.6zM1338.6 459.8h4.6v4.6h-4.6zM1338.6 482.9h4.6v4.6h-4.6zM1338.6 486.2h4.6v4.6h-4.6zM1338.6 492.8h4.6v4.6h-4.6zM1338.6 499.4h4.6v4.6h-4.6zM1338.6 502.7h4.6v4.6h-4.6zM1338.6 509.3h4.6v4.6h-4.6zM1338.6 512.6h4.6v4.6h-4.6zM1341.9 397.1h4.6v4.6h-4.6zM1341.9 466.4h4.6v4.6h-4.6zM1341.9 473.0h4.6v4.6h-4.6zM1341.9 486.2h4.6v4.6h-4.6zM1341.9 489.5h4.6v4.6h-4.6zM1341.9 492.8h4.6v4.6h-4.6zM1341.9 499.4h4.6v4.6h-4.6zM1341.9 509.3h4.6v4.6h-4.6zM1341.9 512.6h4.6v4.6h-4.6zM1341.9 515.9h4.6v4.6h-4.6zM1341.9 532.4h4.6v4.6h-4.6zM1341.9 535.7h4.6v4.6h-4.6zM1345.2 446.6h4.6v4.6h-4.6zM1345.2 449.9h4.6v4.6h-4.6zM1345.2 453.2h4.6v4.6h-4.6zM1345.2 456.5h4.6v4.6h-4.6zM1345.2 463.1h4.6v4.6h-4.6zM1345.2 476.3h4.6v4.6h-4.6zM1345.2 479.6h4.6v4.6h-4.6zM1345.2 482.9h4.6v4.6h-4.6zM1345.2 486.2h4.6v4.6h-4.6zM1345.2 492.8h4.6v4.6h-4.6zM1345.2 499.4h4.6v4.6h-4.6zM1345.2 502.7h4.6v4.6h-4.6zM1345.2 506.0h4.6v4.6h-4.6zM1345.2 509.3h4.6v4.6h-4.6zM1345.2 525.8h4.6v4.6h-4.6zM1348.5 430.1h4.6v4.6h-4.6zM1348.5 453.2h4.6v4.6h-4.6zM1348.5 459.8h4.6v4.6h-4.6zM1348.5 463.1h4.6v4.6h-4.6zM1348.5 482.9h4.6v4.6h-4.6zM1348.5 486.2h4.6v4.6h-4.6zM1348.5 492.8h4.6v4.6h-4.6zM1348.5 496.1h4.6v4.6h-4.6zM1348.5 499.4h4.6v4.6h-4.6zM1348.5 506.0h4.6v4.6h-4.6zM1348.5 512.6h4.6v4.6h-4.6zM1348.5 522.5h4.6v4.6h-4.6zM1351.8 397.1h4.6v4.6h-4.6zM1351.8 410.3h4.6v4.6h-4.6zM1351.8 430.1h4.6v4.6h-4.6zM1351.8 433.4h4.6v4.6h-4.6zM1351.8 436.7h4.6v4.6h-4.6zM1351.8 449.9h4.6v4.6h-4.6zM1351.8 463.1h4.6v4.6h-4.6zM1351.8 476.3h4.6v4.6h-4.6zM1351.8 482.9h4.6v4.6h-4.6zM1351.8 486.2h4.6v4.6h-4.6zM1351.8 492.8h4.6v4.6h-4.6zM1351.8 499.4h4.6v4.6h-4.6zM1351.8 502.7h4.6v4.6h-4.6zM1351.8 506.0h4.6v4.6h-4.6zM1351.8 512.6h4.6v4.6h-4.6zM1351.8 522.5h4.6v4.6h-4.6zM1355.1 430.1h4.6v4.6h-4.6zM1355.1 433.4h4.6v4.6h-4.6zM1355.1 443.3h4.6v4.6h-4.6zM1355.1 459.8h4.6v4.6h-4.6zM1355.1 463.1h4.6v4.6h-4.6zM1355.1 466.4h4.6v4.6h-4.6zM1355.1 479.6h4.6v4.6h-4.6zM1355.1 482.9h4.6v4.6h-4.6zM1355.1 486.2h4.6v4.6h-4.6zM1355.1 489.5h4.6v4.6h-4.6zM1355.1 499.4h4.6v4.6h-4.6zM1355.1 502.7h4.6v4.6h-4.6zM1355.1 509.3h4.6v4.6h-4.6zM1355.1 512.6h4.6v4.6h-4.6zM1358.4 367.4h4.6v4.6h-4.6zM1358.4 393.8h4.6v4.6h-4.6zM1358.4 420.2h4.6v4.6h-4.6zM1358.4 426.8h4.6v4.6h-4.6zM1358.4 436.7h4.6v4.6h-4.6zM1358.4 440.0h4.6v4.6h-4.6zM1358.4 446.6h4.6v4.6h-4.6zM1358.4 463.1h4.6v4.6h-4.6zM1358.4 466.4h4.6v4.6h-4.6zM1358.4 469.7h4.6v4.6h-4.6zM1358.4 473.0h4.6v4.6h-4.6zM1358.4 476.3h4.6v4.6h-4.6zM1358.4 482.9h4.6v4.6h-4.6zM1358.4 486.2h4.6v4.6h-4.6zM1358.4 499.4h4.6v4.6h-4.6zM1358.4 502.7h4.6v4.6h-4.6zM1361.7 397.1h4.6v4.6h-4.6zM1361.7 400.4h4.6v4.6h-4.6zM1361.7 430.1h4.6v4.6h-4.6zM1361.7 433.4h4.6v4.6h-4.6zM1361.7 449.9h4.6v4.6h-4.6zM1361.7 466.4h4.6v4.6h-4.6zM1361.7 476.3h4.6v4.6h-4.6zM1361.7 479.6h4.6v4.6h-4.6zM1361.7 482.9h4.6v4.6h-4.6zM1361.7 486.2h4.6v4.6h-4.6zM1361.7 502.7h4.6v4.6h-4.6zM1361.7 509.3h4.6v4.6h-4.6zM1365.0 350.9h4.6v4.6h-4.6zM1365.0 416.9h4.6v4.6h-4.6zM1365.0 426.8h4.6v4.6h-4.6zM1365.0 433.4h4.6v4.6h-4.6zM1365.0 436.7h4.6v4.6h-4.6zM1365.0 453.2h4.6v4.6h-4.6zM1365.0 459.8h4.6v4.6h-4.6zM1365.0 466.4h4.6v4.6h-4.6zM1365.0 469.7h4.6v4.6h-4.6zM1365.0 473.0h4.6v4.6h-4.6zM1365.0 476.3h4.6v4.6h-4.6zM1365.0 489.5h4.6v4.6h-4.6zM1365.0 502.7h4.6v4.6h-4.6zM1368.3 370.7h4.6v4.6h-4.6zM1368.3 387.2h4.6v4.6h-4.6zM1368.3 390.5h4.6v4.6h-4.6zM1368.3 400.4h4.6v4.6h-4.6zM1368.3 423.5h4.6v4.6h-4.6zM1368.3 426.8h4.6v4.6h-4.6zM1368.3 430.1h4.6v4.6h-4.6zM1368.3 446.6h4.6v4.6h-4.6zM1368.3 453.2h4.6v4.6h-4.6zM1368.3 456.5h4.6v4.6h-4.6zM1368.3 459.8h4.6v4.6h-4.6zM1368.3 469.7h4.6v4.6h-4.6zM1368.3 489.5h4.6v4.6h-4.6zM1371.6 377.3h4.6v4.6h-4.6zM1371.6 403.7h4.6v4.6h-4.6zM1371.6 407.0h4.6v4.6h-4.6zM1371.6 410.3h4.6v4.6h-4.6zM1371.6 423.5h4.6v4.6h-4.6zM1371.6 436.7h4.6v4.6h-4.6zM1371.6 443.3h4.6v4.6h-4.6zM1371.6 449.9h4.6v4.6h-4.6zM1371.6 466.4h4.6v4.6h-4.6zM1371.6 469.7h4.6v4.6h-4.6zM1371.6 473.0h4.6v4.6h-4.6zM1371.6 479.6h4.6v4.6h-4.6zM1371.6 489.5h4.6v4.6h-4.6zM1371.6 496.1h4.6v4.6h-4.6zM1371.6 509.3h4.6v4.6h-4.6zM1374.9 337.7h4.6v4.6h-4.6zM1374.9 400.4h4.6v4.6h-4.6zM1374.9 440.0h4.6v4.6h-4.6zM1374.9 446.6h4.6v4.6h-4.6zM1374.9 453.2h4.6v4.6h-4.6zM1374.9 456.5h4.6v4.6h-4.6zM1374.9 463.1h4.6v4.6h-4.6zM1374.9 479.6h4.6v4.6h-4.6zM1378.2 390.5h4.6v4.6h-4.6zM1378.2 403.7h4.6v4.6h-4.6zM1378.2 420.2h4.6v4.6h-4.6zM1378.2 430.1h4.6v4.6h-4.6zM1378.2 436.7h4.6v4.6h-4.6zM1378.2 443.3h4.6v4.6h-4.6zM1378.2 453.2h4.6v4.6h-4.6zM1378.2 456.5h4.6v4.6h-4.6zM1378.2 459.8h4.6v4.6h-4.6zM1378.2 466.4h4.6v4.6h-4.6zM1378.2 473.0h4.6v4.6h-4.6zM1378.2 479.6h4.6v4.6h-4.6zM1378.2 486.2h4.6v4.6h-4.6zM1381.5 360.8h4.6v4.6h-4.6zM1381.5 390.5h4.6v4.6h-4.6zM1381.5 397.1h4.6v4.6h-4.6zM1381.5 416.9h4.6v4.6h-4.6zM1381.5 420.2h4.6v4.6h-4.6zM1381.5 423.5h4.6v4.6h-4.6zM1381.5 433.4h4.6v4.6h-4.6zM1381.5 436.7h4.6v4.6h-4.6zM1381.5 440.0h4.6v4.6h-4.6zM1381.5 443.3h4.6v4.6h-4.6zM1381.5 446.6h4.6v4.6h-4.6zM1381.5 449.9h4.6v4.6h-4.6zM1381.5 453.2h4.6v4.6h-4.6zM1381.5 463.1h4.6v4.6h-4.6zM1381.5 466.4h4.6v4.6h-4.6zM1381.5 486.2h4.6v4.6h-4.6zM1384.8 360.8h4.6v4.6h-4.6zM1384.8 400.4h4.6v4.6h-4.6zM1384.8 410.3h4.6v4.6h-4.6zM1384.8 416.9h4.6v4.6h-4.6zM1384.8 433.4h4.6v4.6h-4.6zM1384.8 446.6h4.6v4.6h-4.6zM1384.8 453.2h4.6v4.6h-4.6zM1384.8 466.4h4.6v4.6h-4.6zM1384.8 469.7h4.6v4.6h-4.6zM1384.8 506.0h4.6v4.6h-4.6zM1388.1 390.5h4.6v4.6h-4.6zM1388.1 410.3h4.6v4.6h-4.6zM1388.1 413.6h4.6v4.6h-4.6zM1388.1 436.7h4.6v4.6h-4.6zM1388.1 440.0h4.6v4.6h-4.6zM1388.1 443.3h4.6v4.6h-4.6zM1388.1 449.9h4.6v4.6h-4.6zM1388.1 453.2h4.6v4.6h-4.6zM1388.1 459.8h4.6v4.6h-4.6zM1388.1 463.1h4.6v4.6h-4.6zM1388.1 469.7h4.6v4.6h-4.6zM1388.1 476.3h4.6v4.6h-4.6zM1388.1 489.5h4.6v4.6h-4.6zM1391.4 390.5h4.6v4.6h-4.6zM1391.4 423.5h4.6v4.6h-4.6zM1391.4 433.4h4.6v4.6h-4.6zM1391.4 440.0h4.6v4.6h-4.6zM1391.4 443.3h4.6v4.6h-4.6zM1391.4 449.9h4.6v4.6h-4.6zM1391.4 453.2h4.6v4.6h-4.6zM1391.4 456.5h4.6v4.6h-4.6zM1391.4 463.1h4.6v4.6h-4.6zM1391.4 469.7h4.6v4.6h-4.6zM1394.7 390.5h4.6v4.6h-4.6zM1394.7 423.5h4.6v4.6h-4.6zM1394.7 430.1h4.6v4.6h-4.6zM1394.7 436.7h4.6v4.6h-4.6zM1394.7 446.6h4.6v4.6h-4.6zM1398.0 397.1h4.6v4.6h-4.6zM1398.0 433.4h4.6v4.6h-4.6zM1398.0 436.7h4.6v4.6h-4.6zM1398.0 440.0h4.6v4.6h-4.6zM1398.0 443.3h4.6v4.6h-4.6zM1398.0 453.2h4.6v4.6h-4.6zM1398.0 463.1h4.6v4.6h-4.6zM1398.0 479.6h4.6v4.6h-4.6zM1401.3 397.1h4.6v4.6h-4.6zM1401.3 407.0h4.6v4.6h-4.6zM1401.3 413.6h4.6v4.6h-4.6zM1401.3 499.4h4.6v4.6h-4.6zM1401.3 555.5h4.6v4.6h-4.6zM1404.6 433.4h4.6v4.6h-4.6zM1404.6 449.9h4.6v4.6h-4.6zM1404.6 502.7h4.6v4.6h-4.6zM1407.9 380.6h4.6v4.6h-4.6zM1407.9 403.7h4.6v4.6h-4.6zM1407.9 420.2h4.6v4.6h-4.6zM1407.9 436.7h4.6v4.6h-4.6zM1407.9 443.3h4.6v4.6h-4.6zM1407.9 449.9h4.6v4.6h-4.6zM1407.9 466.4h4.6v4.6h-4.6zM1411.2 383.9h4.6v4.6h-4.6zM1411.2 426.8h4.6v4.6h-4.6zM1411.2 459.8h4.6v4.6h-4.6zM1411.2 466.4h4.6v4.6h-4.6zM1411.2 496.1h4.6v4.6h-4.6zM1414.5 374.0h4.6v4.6h-4.6zM1414.5 413.6h4.6v4.6h-4.6zM1414.5 420.2h4.6v4.6h-4.6zM1414.5 436.7h4.6v4.6h-4.6zM1414.5 440.0h4.6v4.6h-4.6zM1417.8 426.8h4.6v4.6h-4.6zM1417.8 443.3h4.6v4.6h-4.6zM1417.8 456.5h4.6v4.6h-4.6zM1421.1 387.2h4.6v4.6h-4.6zM1421.1 436.7h4.6v4.6h-4.6zM1421.1 492.8h4.6v4.6h-4.6zM1421.1 515.9h4.6v4.6h-4.6zM1424.4 370.7h4.6v4.6h-4.6zM1424.4 397.1h4.6v4.6h-4.6zM1424.4 423.5h4.6v4.6h-4.6zM1424.4 446.6h4.6v4.6h-4.6zM1424.4 456.5h4.6v4.6h-4.6zM1424.4 476.3h4.6v4.6h-4.6zM1424.4 489.5h4.6v4.6h-4.6zM1424.4 509.3h4.6v4.6h-4.6zM1427.7 390.5h4.6v4.6h-4.6zM1427.7 400.4h4.6v4.6h-4.6zM1427.7 466.4h4.6v4.6h-4.6zM1427.7 473.0h4.6v4.6h-4.6zM1427.7 492.8h4.6v4.6h-4.6zM1431.0 400.4h4.6v4.6h-4.6zM1431.0 416.9h4.6v4.6h-4.6zM1431.0 440.0h4.6v4.6h-4.6zM1431.0 466.4h4.6v4.6h-4.6zM1431.0 479.6h4.6v4.6h-4.6zM1431.0 486.2h4.6v4.6h-4.6zM1434.3 393.8h4.6v4.6h-4.6zM1434.3 397.1h4.6v4.6h-4.6zM1434.3 433.4h4.6v4.6h-4.6zM1434.3 463.1h4.6v4.6h-4.6zM1434.3 466.4h4.6v4.6h-4.6zM1437.6 440.0h4.6v4.6h-4.6zM1437.6 463.1h4.6v4.6h-4.6zM1437.6 476.3h4.6v4.6h-4.6zM1437.6 512.6h4.6v4.6h-4.6zM1440.9 403.7h4.6v4.6h-4.6zM1440.9 420.2h4.6v4.6h-4.6zM1440.9 430.1h4.6v4.6h-4.6zM1440.9 459.8h4.6v4.6h-4.6zM1440.9 469.7h4.6v4.6h-4.6zM1440.9 489.5h4.6v4.6h-4.6zM1444.2 374.0h4.6v4.6h-4.6zM1444.2 393.8h4.6v4.6h-4.6zM1444.2 397.1h4.6v4.6h-4.6zM1444.2 426.8h4.6v4.6h-4.6zM1444.2 449.9h4.6v4.6h-4.6zM1444.2 469.7h4.6v4.6h-4.6zM1444.2 489.5h4.6v4.6h-4.6zM1447.5 416.9h4.6v4.6h-4.6zM1447.5 420.2h4.6v4.6h-4.6zM1447.5 449.9h4.6v4.6h-4.6zM1447.5 535.7h4.6v4.6h-4.6zM1450.8 370.7h4.6v4.6h-4.6zM1450.8 374.0h4.6v4.6h-4.6zM1450.8 380.6h4.6v4.6h-4.6zM1450.8 420.2h4.6v4.6h-4.6zM1450.8 433.4h4.6v4.6h-4.6zM1450.8 436.7h4.6v4.6h-4.6zM1450.8 479.6h4.6v4.6h-4.6zM1454.1 374.0h4.6v4.6h-4.6zM1454.1 383.9h4.6v4.6h-4.6zM1454.1 387.2h4.6v4.6h-4.6zM1454.1 446.6h4.6v4.6h-4.6zM1454.1 449.9h4.6v4.6h-4.6zM1454.1 459.8h4.6v4.6h-4.6zM1454.1 469.7h4.6v4.6h-4.6zM1457.4 387.2h4.6v4.6h-4.6zM1457.4 403.7h4.6v4.6h-4.6zM1457.4 443.3h4.6v4.6h-4.6zM1457.4 446.6h4.6v4.6h-4.6zM1457.4 482.9h4.6v4.6h-4.6zM1457.4 565.4h4.6v4.6h-4.6zM1460.7 397.1h4.6v4.6h-4.6zM1460.7 426.8h4.6v4.6h-4.6zM1460.7 436.7h4.6v4.6h-4.6zM1460.7 469.7h4.6v4.6h-4.6zM1464.0 426.8h4.6v4.6h-4.6zM1464.0 476.3h4.6v4.6h-4.6zM1467.3 400.4h4.6v4.6h-4.6zM1467.3 430.1h4.6v4.6h-4.6zM1467.3 456.5h4.6v4.6h-4.6zM1467.3 473.0h4.6v4.6h-4.6zM1467.3 506.0h4.6v4.6h-4.6zM1470.6 387.2h4.6v4.6h-4.6zM1470.6 436.7h4.6v4.6h-4.6zM1470.6 476.3h4.6v4.6h-4.6zM1473.9 430.1h4.6v4.6h-4.6zM1473.9 436.7h4.6v4.6h-4.6zM1473.9 463.1h4.6v4.6h-4.6zM1477.2 410.3h4.6v4.6h-4.6zM1477.2 443.3h4.6v4.6h-4.6zM1477.2 476.3h4.6v4.6h-4.6zM1477.2 479.6h4.6v4.6h-4.6zM1477.2 486.2h4.6v4.6h-4.6zM1480.5 423.5h4.6v4.6h-4.6zM1480.5 453.2h4.6v4.6h-4.6zM1480.5 466.4h4.6v4.6h-4.6zM1480.5 469.7h4.6v4.6h-4.6zM1483.8 380.6h4.6v4.6h-4.6zM1483.8 492.8h4.6v4.6h-4.6zM1487.1 410.3h4.6v4.6h-4.6zM1487.1 426.8h4.6v4.6h-4.6zM1487.1 456.5h4.6v4.6h-4.6zM1490.4 387.2h4.6v4.6h-4.6zM1490.4 433.4h4.6v4.6h-4.6zM1490.4 466.4h4.6v4.6h-4.6zM1493.7 430.1h4.6v4.6h-4.6zM1493.7 433.4h4.6v4.6h-4.6zM1493.7 489.5h4.6v4.6h-4.6zM1497.0 390.5h4.6v4.6h-4.6zM1497.0 400.4h4.6v4.6h-4.6zM1497.0 440.0h4.6v4.6h-4.6zM1497.0 449.9h4.6v4.6h-4.6zM1497.0 459.8h4.6v4.6h-4.6zM1497.0 515.9h4.6v4.6h-4.6zM1500.3 400.4h4.6v4.6h-4.6zM1500.3 416.9h4.6v4.6h-4.6zM1500.3 436.7h4.6v4.6h-4.6zM1500.3 446.6h4.6v4.6h-4.6zM1500.3 502.7h4.6v4.6h-4.6zM1503.6 440.0h4.6v4.6h-4.6zM1503.6 509.3h4.6v4.6h-4.6zM1506.9 390.5h4.6v4.6h-4.6zM1506.9 466.4h4.6v4.6h-4.6zM1510.2 433.4h4.6v4.6h-4.6zM1510.2 443.3h4.6v4.6h-4.6zM1510.2 552.2h4.6v4.6h-4.6zM1513.5 430.1h4.6v4.6h-4.6zM1516.8 423.5h4.6v4.6h-4.6zM1520.1 423.5h4.6v4.6h-4.6zM1520.1 433.4h4.6v4.6h-4.6zM1520.1 509.3h4.6v4.6h-4.6zM1523.4 426.8h4.6v4.6h-4.6zM1523.4 473.0h4.6v4.6h-4.6zM1523.4 489.5h4.6v4.6h-4.6zM1523.4 542.3h4.6v4.6h-4.6zM1526.7 413.6h4.6v4.6h-4.6zM1526.7 473.0h4.6v4.6h-4.6zM1530.0 430.1h4.6v4.6h-4.6zM1530.0 436.7h4.6v4.6h-4.6zM1530.0 502.7h4.6v4.6h-4.6zM1533.3 430.1h4.6v4.6h-4.6zM1536.6 440.0h4.6v4.6h-4.6zM1536.6 482.9h4.6v4.6h-4.6zM1536.6 522.5h4.6v4.6h-4.6zM1539.9 459.8h4.6v4.6h-4.6zM1539.9 473.0h4.6v4.6h-4.6zM1539.9 512.6h4.6v4.6h-4.6zM1543.2 400.4h4.6v4.6h-4.6zM1543.2 430.1h4.6v4.6h-4.6zM1543.2 446.6h4.6v4.6h-4.6zM1543.2 463.1h4.6v4.6h-4.6zM1546.5 423.5h4.6v4.6h-4.6zM1546.5 436.7h4.6v4.6h-4.6zM1546.5 522.5h4.6v4.6h-4.6zM1549.8 377.3h4.6v4.6h-4.6zM1549.8 446.6h4.6v4.6h-4.6zM1553.1 400.4h4.6v4.6h-4.6zM1553.1 453.2h4.6v4.6h-4.6zM1553.1 463.1h4.6v4.6h-4.6zM1556.4 479.6h4.6v4.6h-4.6zM1559.7 377.3h4.6v4.6h-4.6zM1559.7 426.8h4.6v4.6h-4.6zM1563.0 416.9h4.6v4.6h-4.6zM1566.3 390.5h4.6v4.6h-4.6zM1566.3 430.1h4.6v4.6h-4.6zM1566.3 443.3h4.6v4.6h-4.6zM1569.6 482.9h4.6v4.6h-4.6zM1569.6 512.6h4.6v4.6h-4.6zM1572.9 374.0h4.6v4.6h-4.6zM1576.2 443.3h4.6v4.6h-4.6zM1576.2 473.0h4.6v4.6h-4.6zM1579.5 387.2h4.6v4.6h-4.6zM1579.5 407.0h4.6v4.6h-4.6zM1579.5 453.2h4.6v4.6h-4.6zM1579.5 456.5h4.6v4.6h-4.6zM1582.8 397.1h4.6v4.6h-4.6zM1582.8 423.5h4.6v4.6h-4.6zM1586.1 529.1h4.6v4.6h-4.6zM1589.4 456.5h4.6v4.6h-4.6zM1592.7 476.3h4.6v4.6h-4.6zM1596.0 407.0h4.6v4.6h-4.6zM1599.3 466.4h4.6v4.6h-4.6zM1599.3 506.0h4.6v4.6h-4.6zM1602.6 436.7h4.6v4.6h-4.6zM1602.6 463.1h4.6v4.6h-4.6zM1602.6 509.3h4.6v4.6h-4.6zM1605.9 449.9h4.6v4.6h-4.6zM1605.9 466.4h4.6v4.6h-4.6zM1605.9 568.7h4.6v4.6h-4.6zM1609.2 416.9h4.6v4.6h-4.6zM1609.2 463.1h4.6v4.6h-4.6zM1609.2 466.4h4.6v4.6h-4.6zM1615.8 433.4h4.6v4.6h-4.6zM1615.8 479.6h4.6v4.6h-4.6zM1615.8 552.2h4.6v4.6h-4.6zM1619.1 374.0h4.6v4.6h-4.6zM1619.1 420.2h4.6v4.6h-4.6zM1619.1 492.8h4.6v4.6h-4.6zM1619.1 545.6h4.6v4.6h-4.6zM1622.4 436.7h4.6v4.6h-4.6zM1622.4 453.2h4.6v4.6h-4.6zM1622.4 476.3h4.6v4.6h-4.6zM1622.4 492.8h4.6v4.6h-4.6zM1632.3 423.5h4.6v4.6h-4.6zM1635.6 430.1h4.6v4.6h-4.6zM1642.2 433.4h4.6v4.6h-4.6zM1642.2 466.4h4.6v4.6h-4.6zM1645.5 374.0h4.6v4.6h-4.6zM1645.5 440.0h4.6v4.6h-4.6zM1648.8 407.0h4.6v4.6h-4.6zM1648.8 446.6h4.6v4.6h-4.6zM1648.8 502.7h4.6v4.6h-4.6zM1648.8 565.4h4.6v4.6h-4.6zM1652.1 446.6h4.6v4.6h-4.6zM1655.4 400.4h4.6v4.6h-4.6zM1655.4 466.4h4.6v4.6h-4.6zM1662.0 403.7h4.6v4.6h-4.6zM1671.9 473.0h4.6v4.6h-4.6zM1675.2 466.4h4.6v4.6h-4.6zM1678.5 443.3h4.6v4.6h-4.6zM1678.5 463.1h4.6v4.6h-4.6zM1681.8 463.1h4.6v4.6h-4.6zM1685.1 387.2h4.6v4.6h-4.6zM1685.1 449.9h4.6v4.6h-4.6zM1688.4 377.3h4.6v4.6h-4.6zM1714.8 387.2h4.6v4.6h-4.6zM1721.4 400.4h4.6v4.6h-4.6zM1724.7 440.0h4.6v4.6h-4.6zM1724.7 479.6h4.6v4.6h-4.6z"/>
<rect x="1106.6" y="35.8" width="625.2" height="624.3" fill="none" stroke="#0c0c0c" stroke-width="4.8"/>
<line x1="1106.6" y1="660.1" x2="1106.6" y2="682.1" stroke="#0c0c0c" stroke-width="4.8" stroke-linecap="butt"/>
<line x1="1264.5" y1="660.1" x2="1264.5" y2="682.1" stroke="#0c0c0c" stroke-width="4.8" stroke-linecap="butt"/>
<line x1="1419.2" y1="660.1" x2="1419.2" y2="682.1" stroke="#0c0c0c" stroke-width="4.8" stroke-linecap="butt"/>
<line x1="1577.0" y1="660.1" x2="1577.0" y2="682.1" stroke="#0c0c0c" stroke-width="4.8" stroke-linecap="butt"/>
<line x1="1731.8" y1="660.1" x2="1731.8" y2="682.1" stroke="#0c0c0c" stroke-width="4.8" stroke-linecap="butt"/>
<line x1="1084.6" y1="35.8" x2="1106.6" y2="35.8" stroke="#0c0c0c" stroke-width="4.8" stroke-linecap="butt"/>
<line x1="1084.6" y1="193.5" x2="1106.6" y2="193.5" stroke="#0c0c0c" stroke-width="4.8" stroke-linecap="butt"/>
<line x1="1084.6" y1="348.0" x2="1106.6" y2="348.0" stroke="#0c0c0c" stroke-width="4.8" stroke-linecap="butt"/>
<line x1="1084.6" y1="505.5" x2="1106.6" y2="505.5" stroke="#0c0c0c" stroke-width="4.8" stroke-linecap="butt"/>
<line x1="1084.6" y1="660.1" x2="1106.6" y2="660.1" stroke="#0c0c0c" stroke-width="4.8" stroke-linecap="butt"/>
<rect x="1260.5" y="372" width="138.3" height="238" fill="none" stroke="#0c0c0c" stroke-width="4.6"/>
<path fill="#ff0808" d="M337.7 1333.2h4.6v4.6h-4.6zM344.3 1283.7h4.6v4.6h-4.6zM347.6 1306.8h4.6v4.6h-4.6zM354.2 1313.4h4.6v4.6h-4.6zM360.8 1267.2h4.6v4.6h-4.6zM360.8 1316.7h4.6v4.6h-4.6zM364.1 1283.7h4.6v4.6h-4.6zM364.1 1316.7h4.6v4.6h-4.6zM367.4 1263.9h4.6v4.6h-4.6zM367.4 1277.1h4.6v4.6h-4.6zM370.7 1257.3h4.6v4.6h-4.6zM370.7 1273.8h4.6v4.6h-4.6zM370.7 1277.1h4.6v4.6h-4.6zM370.7 1287.0h4.6v4.6h-4.6zM370.7 1313.4h4.6v4.6h-4.6zM370.7 1320.0h4.6v4.6h-4.6zM374.0 1240.8h4.6v4.6h-4.6zM374.0 1257.3h4.6v4.6h-4.6zM374.0 1273.8h4.6v4.6h-4.6zM374.0 1280.4h4.6v4.6h-4.6zM374.0 1287.0h4.6v4.6h-4.6zM374.0 1290.3h4.6v4.6h-4.6zM377.3 1250.7h4.6v4.6h-4.6zM377.3 1257.3h4.6v4.6h-4.6zM377.3 1260.6h4.6v4.6h-4.6zM377.3 1267.2h4.6v4.6h-4.6zM377.3 1273.8h4.6v4.6h-4.6zM377.3 1277.1h4.6v4.6h-4.6zM377.3 1280.4h4.6v4.6h-4.6zM377.3 1283.7h4.6v4.6h-4.6zM377.3 1287.0h4.6v4.6h-4.6zM377.3 1290.3h4.6v4.6h-4.6zM380.6 1267.2h4.6v4.6h-4.6zM380.6 1270.5h4.6v4.6h-4.6zM380.6 1277.1h4.6v4.6h-4.6zM380.6 1280.4h4.6v4.6h-4.6zM380.6 1296.9h4.6v4.6h-4.6zM383.9 1247.4h4.6v4.6h-4.6zM383.9 1254.0h4.6v4.6h-4.6zM383.9 1257.3h4.6v4.6h-4.6zM383.9 1267.2h4.6v4.6h-4.6zM383.9 1270.5h4.6v4.6h-4.6zM383.9 1277.1h4.6v4.6h-4.6zM383.9 1280.4h4.6v4.6h-4.6zM387.2 1237.5h4.6v4.6h-4.6zM387.2 1247.4h4.6v4.6h-4.6zM387.2 1250.7h4.6v4.6h-4.6zM387.2 1254.0h4.6v4.6h-4.6zM387.2 1257.3h4.6v4.6h-4.6zM387.2 1263.9h4.6v4.6h-4.6zM387.2 1267.2h4.6v4.6h-4.6zM387.2 1270.5h4.6v4.6h-4.6zM387.2 1273.8h4.6v4.6h-4.6zM387.2 1280.4h4.6v4.6h-4.6zM387.2 1287.0h4.6v4.6h-4.6zM387.2 1290.3h4.6v4.6h-4.6zM387.2 1293.6h4.6v4.6h-4.6zM387.2 1300.2h4.6v4.6h-4.6zM387.2 1303.5h4.6v4.6h-4.6zM390.5 1230.9h4.6v4.6h-4.6zM390.5 1247.4h4.6v4.6h-4.6zM390.5 1250.7h4.6v4.6h-4.6zM390.5 1257.3h4.6v4.6h-4.6zM390.5 1260.6h4.6v4.6h-4.6zM390.5 1263.9h4.6v4.6h-4.6zM390.5 1270.5h4.6v4.6h-4.6zM390.5 1273.8h4.6v4.6h-4.6zM390.5 1277.1h4.6v4.6h-4.6zM390.5 1280.4h4.6v4.6h-4.6zM390.5 1283.7h4.6v4.6h-4.6zM390.5 1287.0h4.6v4.6h-4.6zM393.8 1240.8h4.6v4.6h-4.6zM393.8 1250.7h4.6v4.6h-4.6zM393.8 1254.0h4.6v4.6h-4.6zM393.8 1260.6h4.6v4.6h-4.6zM393.8 1263.9h4.6v4.6h-4.6zM393.8 1267.2h4.6v4.6h-4.6zM393.8 1270.5h4.6v4.6h-4.6zM393.8 1273.8h4.6v4.6h-4.6zM393.8 1280.4h4.6v4.6h-4.6zM397.1 1237.5h4.6v4.6h-4.6zM397.1 1240.8h4.6v4.6h-4.6zM397.1 1247.4h4.6v4.6h-4.6zM397.1 1250.7h4.6v4.6h-4.6zM397.1 1254.0h4.6v4.6h-4.6zM397.1 1257.3h4.6v4.6h-4.6zM397.1 1260.6h4.6v4.6h-4.6zM397.1 1263.9h4.6v4.6h-4.6zM397.1 1267.2h4.6v4.6h-4.6zM397.1 1270.5h4.6v4.6h-4.6zM397.1 1273.8h4.6v4.6h-4.6zM397.1 1277.1h4.6v4.6h-4.6zM397.1 1293.6h4.6v4.6h-4.6zM400.4 1217.7h4.6v4.6h-4.6zM400.4 1230.9h4.6v4.6h-4.6zM400.4 1237.5h4.6v4.6h-4.6zM400.4 1244.1h4.6v4.6h-4.6zM400.4 1247.4h4.6v4.6h-4.6zM400.4 1250.7h4.6v4.6h-4.6zM400.4 1254.0h4.6v4.6h-4.6zM400.4 1257.3h4.6v4.6h-4.6zM400.4 1260.6h4.6v4.6h-4.6zM400.4 1263.9h4.6v4.6h-4.6zM400.4 1267.2h4.6v4.6h-4.6zM400.4 1270.5h4.6v4.6h-4.6zM400.4 1273.8h4.6v4.6h-4.6zM400.4 1280.4h4.6v4.6h-4.6zM400.4 1287.0h4.6v4.6h-4.6zM403.7 1227.6h4.6v4.6h-4.6zM403.7 1230.9h4.6v4.6h-4.6zM403.7 1234.2h4.6v4.6h-4.6zM403.7 1237.5h4.6v4.6h-4.6zM403.7 1240.8h4.6v4.6h-4.6zM403.7 1244.1h4.6v4.6h-4.6zM403.7 1247.4h4.6v4.6h-4.6zM403.7 1250.7h4.6v4.6h-4.6zM403.7 1254.0h4.6v4.6h-4.6zM403.7 1257.3h4.6v4.6h-4.6zM403.7 1260.6h4.6v4.6h-4.6zM403.7 1263.9h4.6v4.6h-4.6zM403.7 1267.2h4.6v4.6h-4.6zM403.7 1270.5h4.6v4.6h-4.6zM403.7 1273.8h4.6v4.6h-4.6zM403.7 1287.0h4.6v4.6h-4.6zM407.0 1237.5h4.6v4.6h-4.6zM407.0 1240.8h4.6v4.6h-4.6zM407.0 1247.4h4.6v4.6h-4.6zM407.0 1250.7h4.6v4.6h-4.6zM407.0 1254.0h4.6v4.6h-4.6zM407.0 1257.3h4.6v4.6h-4.6zM407.0 1260.6h4.6v4.6h-4.6zM407.0 1263.9h4.6v4.6h-4.6zM407.0 1267.2h4.6v4.6h-4.6zM407.0 1270.5h4.6v4.6h-4.6zM407.0 1273.8h4.6v4.6h-4.6zM407.0 1290.3h4.6v4.6h-4.6zM410.3 1214.4h4.6v4.6h-4.6zM410.3 1221.0h4.6v4.6h-4.6zM410.3 1227.6h4.6v4.6h-4.6zM410.3 1230.9h4.6v4.6h-4.6zM410.3 1234.2h4.6v4.6h-4.6zM410.3 1237.5h4.6v4.6h-4.6zM410.3 1240.8h4.6v4.6h-4.6zM410.3 1244.1h4.6v4.6h-4.6zM410.3 1247.4h4.6v4.6h-4.6zM410.3 1254.0h4.6v4.6h-4.6zM410.3 1257.3h4.6v4.6h-4.6zM410.3 1260.6h4.6v4.6h-4.6zM410.3 1263.9h4.6v4.6h-4.6zM410.3 1267.2h4.6v4.6h-4.6zM410.3 1273.8h4.6v4.6h-4.6zM413.6 1217.7h4.6v4.6h-4.6zM413.6 1227.6h4.6v4.6h-4.6zM413.6 1230.9h4.6v4.6h-4.6zM413.6 1234.2h4.6v4.6h-4.6zM413.6 1237.5h4.6v4.6h-4.6zM413.6 1240.8h4.6v4.6h-4.6zM413.6 1244.1h4.6v4.6h-4.6zM413.6 1247.4h4.6v4.6h-4.6zM413.6 1250.7h4.6v4.6h-4.6zM413.6 1254.0h4.6v4.6h-4.6zM413.6 1257.3h4.6v4.6h-4.6zM413.6 1260.6h4.6v4.6h-4.6zM413.6 1263.9h4.6v4.6h-4.6zM413.6 1267.2h4.6v4.6h-4.6zM413.6 1270.5h4.6v4.6h-4.6zM416.9 1221.0h4.6v4.6h-4.6zM416.9 1227.6h4.6v4.6h-4.6zM416.9 1230.9h4.6v4.6h-4.6zM416.9 1237.5h4.6v4.6h-4.6zM416.9 1240.8h4.6v4.6h-4.6zM416.9 1244.1h4.6v4.6h-4.6zM416.9 1247.4h4.6v4.6h-4.6zM416.9 1250.7h4.6v4.6h-4.6zM416.9 1254.0h4.6v4.6h-4.6zM416.9 1257.3h4.6v4.6h-4.6zM416.9 1260.6h4.6v4.6h-4.6zM416.9 1263.9h4.6v4.6h-4.6zM416.9 1267.2h4.6v4.6h-4.6zM416.9 1270.5h4.6v4.6h-4.6zM420.2 1217.7h4.6v4.6h-4.6zM420.2 1221.0h4.6v4.6h-4.6zM420.2 1230.9h4.6v4.6h-4.6zM420.2 1234.2h4.6v4.6h-4.6zM420.2 1237.5h4.6v4.6h-4.6zM420.2 1240.8h4.6v4.6h-4.6zM420.2 1244.1h4.6v4.6h-4.6zM420.2 1247.4h4.6v4.6h-4.6zM420.2 1257.3h4.6v4.6h-4.6zM420.2 1260.6h4.6v4.6h-4.6zM420.2 1263.9h4.6v4.6h-4.6zM423.5 1204.5h4.6v4.6h-4.6zM423.5 1221.0h4.6v4.6h-4.6zM423.5 1224.3h4.6v4.6h-4.6zM423.5 1227.6h4.6v4.6h-4.6zM423.5 1230.9h4.6v4.6h-4.6zM423.5 1234.2h4.6v4.6h-4.6zM423.5 1237.5h4.6v4.6h-4.6zM423.5 1240.8h4.6v4.6h-4.6zM423.5 1244.1h4.6v4.6h-4.6zM423.5 1247.4h4.6v4.6h-4.6zM423.5 1250.7h4.6v4.6h-4.6zM423.5 1254.0h4.6v4.6h-4.6zM423.5 1257.3h4.6v4.6h-4.6zM423.5 1260.6h4.6v4.6h-4.6zM423.5 1263.9h4.6v4.6h-4.6zM423.5 1273.8h4.6v4.6h-4.6zM426.8 1204.5h4.6v4.6h-4.6zM426.8 1224.3h4.6v4.6h-4.6zM426.8 1227.6h4.6v4.6h-4.6zM426.8 1230.9h4.6v4.6h-4.6zM426.8 1234.2h4.6v4.6h-4.6zM426.8 1237.5h4.6v4.6h-4.6zM426.8 1240.8h4.6v4.6h-4.6zM426.8 1244.1h4.6v4.6h-4.6zM426.8 1247.4h4.6v4.6h-4.6zM426.8 1250.7h4.6v4.6h-4.6zM426.8 1254.0h4.6v4.6h-4.6zM426.8 1257.3h4.6v4.6h-4.6zM426.8 1260.6h4.6v4.6h-4.6zM430.1 1197.9h4.6v4.6h-4.6zM430.1 1201.2h4.6v4.6h-4.6zM430.1 1214.4h4.6v4.6h-4.6zM430.1 1217.7h4.6v4.6h-4.6zM430.1 1221.0h4.6v4.6h-4.6zM430.1 1224.3h4.6v4.6h-4.6zM430.1 1227.6h4.6v4.6h-4.6zM430.1 1230.9h4.6v4.6h-4.6zM430.1 1237.5h4.6v4.6h-4.6zM430.1 1240.8h4.6v4.6h-4.6zM430.1 1244.1h4.6v4.6h-4.6zM430.1 1247.4h4.6v4.6h-4.6zM430.1 1250.7h4.6v4.6h-4.6zM430.1 1254.0h4.6v4.6h-4.6zM433.4 1201.2h4.6v4.6h-4.6zM433.4 1204.5h4.6v4.6h-4.6zM433.4 1221.0h4.6v4.6h-4.6zM433.4 1227.6h4.6v4.6h-4.6zM433.4 1237.5h4.6v4.6h-4.6zM433.4 1240.8h4.6v4.6h-4.6zM433.4 1247.4h4.6v4.6h-4.6zM436.7 1211.1h4.6v4.6h-4.6zM436.7 1221.0h4.6v4.6h-4.6zM436.7 1224.3h4.6v4.6h-4.6zM436.7 1227.6h4.6v4.6h-4.6zM436.7 1230.9h4.6v4.6h-4.6zM436.7 1234.2h4.6v4.6h-4.6zM436.7 1240.8h4.6v4.6h-4.6zM436.7 1244.1h4.6v4.6h-4.6zM436.7 1257.3h4.6v4.6h-4.6zM440.0 1207.8h4.6v4.6h-4.6zM440.0 1221.0h4.6v4.6h-4.6zM440.0 1240.8h4.6v4.6h-4.6zM440.0 1244.1h4.6v4.6h-4.6zM443.3 1204.5h4.6v4.6h-4.6zM443.3 1207.8h4.6v4.6h-4.6zM443.3 1217.7h4.6v4.6h-4.6zM443.3 1221.0h4.6v4.6h-4.6zM443.3 1224.3h4.6v4.6h-4.6zM446.6 1191.3h4.6v4.6h-4.6zM446.6 1201.2h4.6v4.6h-4.6zM446.6 1214.4h4.6v4.6h-4.6zM446.6 1227.6h4.6v4.6h-4.6zM446.6 1234.2h4.6v4.6h-4.6zM449.9 1230.9h4.6v4.6h-4.6zM453.2 1184.7h4.6v4.6h-4.6zM453.2 1201.2h4.6v4.6h-4.6zM453.2 1211.1h4.6v4.6h-4.6zM453.2 1214.4h4.6v4.6h-4.6zM453.2 1227.6h4.6v4.6h-4.6zM453.2 1240.8h4.6v4.6h-4.6zM456.5 1204.5h4.6v4.6h-4.6zM456.5 1211.1h4.6v4.6h-4.6zM456.5 1214.4h4.6v4.6h-4.6zM456.5 1217.7h4.6v4.6h-4.6zM459.8 1194.6h4.6v4.6h-4.6zM459.8 1201.2h4.6v4.6h-4.6zM459.8 1214.4h4.6v4.6h-4.6zM463.1 1197.9h4.6v4.6h-4.6zM466.4 1184.7h4.6v4.6h-4.6zM466.4 1207.8h4.6v4.6h-4.6z"/>
<rect x="194.8" y="825.4" width="625.5" height="625.6" fill="none" stroke="#0c0c0c" stroke-width="4.8"/>
<line x1="194.8" y1="1451.0" x2="194.8" y2="1473.0" stroke="#0c0c0c" stroke-width="4.8" stroke-linecap="butt"/>
<line x1="319.9" y1="1451.0" x2="319.9" y2="1473.0" stroke="#0c0c0c" stroke-width="4.8" stroke-linecap="butt"/>
<line x1="445.0" y1="1451.0" x2="445.0" y2="1473.0" stroke="#0c0c0c" stroke-width="4.8" stroke-linecap="butt"/>
<line x1="570.1" y1="1451.0" x2="570.1" y2="1473.0" stroke="#0c0c0c" stroke-width="4.8" stroke-linecap="butt"/>
<line x1="695.2" y1="1451.0" x2="695.2" y2="1473.0" stroke="#0c0c0c" stroke-width="4.8" stroke-linecap="butt"/>
<line x1="820.3" y1="1451.0" x2="820.3" y2="1473.0" stroke="#0c0c0c" stroke-width="4.8" stroke-linecap="butt"/>
<line x1="172.8" y1="825.4" x2="194.8" y2="825.4" stroke="#0c0c0c" stroke-width="4.8" stroke-linecap="butt"/>
<line x1="172.8" y1="950.5" x2="194.8" y2="950.5" stroke="#0c0c0c" stroke-width="4.8" stroke-linecap="butt"/>
<line x1="172.8" y1="1075.6" x2="194.8" y2="1075.6" stroke="#0c0c0c" stroke-width="4.8" stroke-linecap="butt"/>
<line x1="172.8" y1="1200.8" x2="194.8" y2="1200.8" stroke="#0c0c0c" stroke-width="4.8" stroke-linecap="butt"/>
<line x1="172.8" y1="1325.9" x2="194.8" y2="1325.9" stroke="#0c0c0c" stroke-width="4.8" stroke-linecap="butt"/>
<line x1="172.8" y1="1451.0" x2="194.8" y2="1451.0" stroke="#0c0c0c" stroke-width="4.8" stroke-linecap="butt"/>
<rect x="398" y="915" width="133.5" height="145" fill="none" stroke="#0c0c0c" stroke-width="3.6"/>
<rect x="212" y="1106.2" width="279.8" height="278.8" fill="none" stroke="#0c0c0c" stroke-width="4.2"/>
<polygon fill="none" stroke="#0c0c0c" stroke-width="2.6" stroke-linejoin="round" points="666,1000 727.5,1036 677.5,1087.5 576,1194 527.5,1243.5 515,1243.5 507.5,1207.5 506,1186 502.5,1175 532.5,1143.8 585,1086 637.5,1030"/>
<rect x="1106.5" y="825.9" width="626.0" height="621.2" fill="none" stroke="#0c0c0c" stroke-width="4.8"/>
<line x1="1106.5" y1="1447.1" x2="1106.5" y2="1469.1" stroke="#0c0c0c" stroke-width="4.8" stroke-linecap="butt"/>
<line x1="1264.6" y1="1447.1" x2="1264.6" y2="1469.1" stroke="#0c0c0c" stroke-width="4.8" stroke-linecap="butt"/>
<line x1="1419.5" y1="1447.1" x2="1419.5" y2="1469.1" stroke="#0c0c0c" stroke-width="4.8" stroke-linecap="butt"/>
<line x1="1577.5" y1="1447.1" x2="1577.5" y2="1469.1" stroke="#0c0c0c" stroke-width="4.8" stroke-linecap="butt"/>
<line x1="1732.5" y1="1447.1" x2="1732.5" y2="1469.1" stroke="#0c0c0c" stroke-width="4.8" stroke-linecap="butt"/>
<line x1="1084.5" y1="825.9" x2="1106.5" y2="825.9" stroke="#0c0c0c" stroke-width="4.8" stroke-linecap="butt"/>
<line x1="1084.5" y1="980.2" x2="1106.5" y2="980.2" stroke="#0c0c0c" stroke-width="4.8" stroke-linecap="butt"/>
<line x1="1084.5" y1="1138.5" x2="1106.5" y2="1138.5" stroke="#0c0c0c" stroke-width="4.8" stroke-linecap="butt"/>
<line x1="1084.5" y1="1293.1" x2="1106.5" y2="1293.1" stroke="#0c0c0c" stroke-width="4.8" stroke-linecap="butt"/>
<line x1="1084.5" y1="1447.1" x2="1106.5" y2="1447.1" stroke="#0c0c0c" stroke-width="4.8" stroke-linecap="butt"/>
<polyline fill="none" stroke="#0c0c0c" stroke-width="4.6" points="1586.5,948.5 1586.5,882.5 1622.5,882.5 1622.5,945.5"/>
</g>
<g filter="url(#b2)">
<text x="215.0" y="107.5" font-size="52.5" font-weight="bold" class="g" textLength="65.0" lengthAdjust="spacingAndGlyphs">G1</text>
<text x="1141.0" y="107.7" font-size="52.5" font-weight="bold" class="g" textLength="65.1" lengthAdjust="spacingAndGlyphs">G2</text>
<text x="228.8" y="898.8" font-size="52.5" font-weight="bold" class="g" textLength="66.2" lengthAdjust="spacingAndGlyphs">G3</text>
<text x="1142.2" y="901.4" font-size="52.5" font-weight="bold" class="g" textLength="66.4" lengthAdjust="spacingAndGlyphs">G4</text>
</g>
<rect x="1767.5" y="0" width="5" height="1598" fill="#fff"/>
<rect x="845" y="0" width="1" height="800" fill="#f6f6f6"/>
<rect x="1767" y="0" width="1" height="1590" fill="#f6f6f6"/>
<rect x="926" y="1589" width="842" height="1.5" fill="#f5f5f5"/>
</svg>
</body></html>
